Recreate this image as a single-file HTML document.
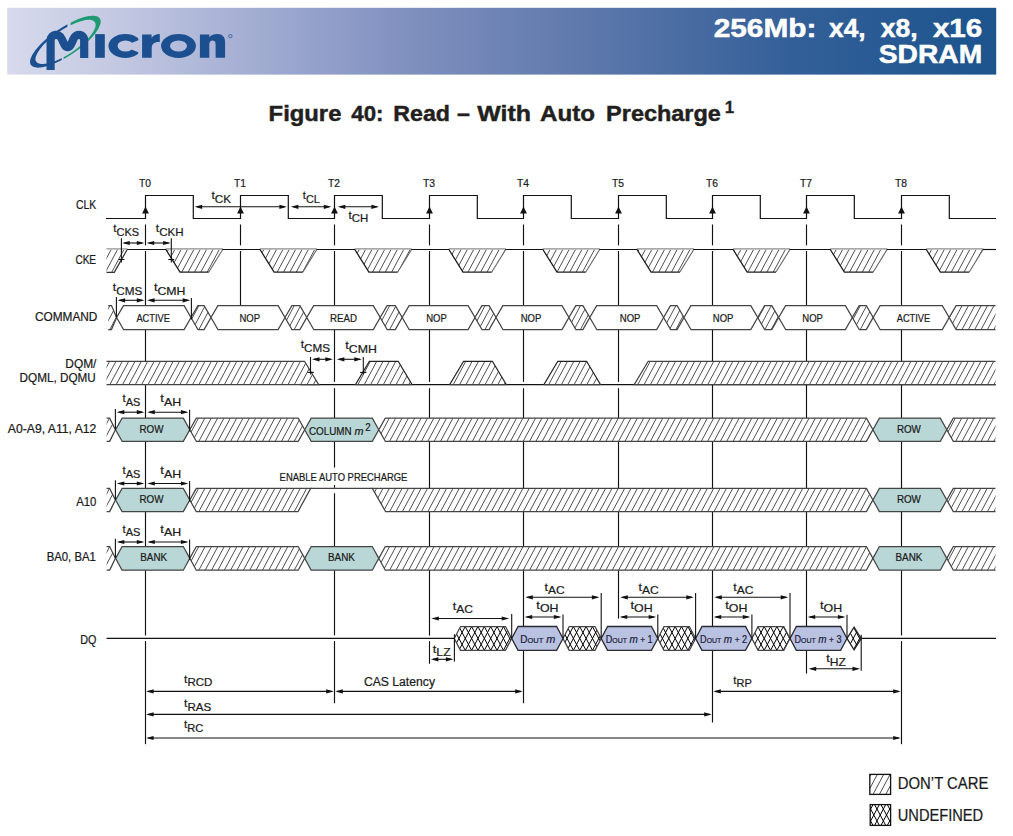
<!DOCTYPE html>
<html><head><meta charset="utf-8"><title>Figure 40</title>
<style>
html,body{margin:0;padding:0;background:#fff;}
body{width:1013px;height:836px;overflow:hidden;font-family:"Liberation Sans",sans-serif;}
svg{display:block;font-family:"Liberation Sans",sans-serif;}
</style></head><body>
<svg width="1013" height="836" viewBox="0 0 1013 836">
<defs>
<linearGradient id="hg" x1="0" y1="0" x2="1" y2="0">
<stop offset="0" stop-color="#d7daec"/><stop offset="0.104" stop-color="#c5cae3"/><stop offset="0.296" stop-color="#98a4cd"/>
<stop offset="0.397" stop-color="#8191c0"/><stop offset="0.58" stop-color="#5f79ac"/><stop offset="0.794" stop-color="#335f98"/><stop offset="1" stop-color="#1c548d"/>
</linearGradient>
</defs>
<rect x="0" y="0" width="1013" height="836" fill="#fff"/>
<rect x="7.2" y="7.8" width="989" height="66.8" fill="url(#hg)"/>
<clipPath id="cb"><path d="M0 0 H67.4 V42 H61.8 V80 H0 Z"/></clipPath>
<clipPath id="cg"><path d="M120 0 H70.6 V42 H63.6 V80 H120 Z"/></clipPath>
<g clip-path="url(#cb)"><path transform="translate(65.4 41.7) rotate(-34.0)" fill="#1b4f90" fill-rule="evenodd" d="M-41.6 0 A41.6 13.9 0 1 0 41.6 0 A41.6 13.9 0 1 0 -41.6 0 Z M-35.4 0.3 A35.4 12.0 0 1 0 35.4 0.3 A35.4 12.0 0 1 0 -35.4 0.3 Z"/></g>
<g clip-path="url(#cg)"><path transform="translate(65.4 41.7) rotate(-34.0)" fill="#1f9a72" fill-rule="evenodd" d="M-41.6 0 A41.6 13.9 0 1 0 41.6 0 A41.6 13.9 0 1 0 -41.6 0 Z M-35.4 0.3 A35.4 12.0 0 1 0 35.4 0.3 A35.4 12.0 0 1 0 -35.4 0.3 Z"/></g>
<path d="M50.6 69.9 L50.6 40.5 C50.6 33.6 59.2 33.2 61.6 38.6 C63.6 43 65 47.2 67.6 47.2 C70.2 47.2 71.8 43 73.6 38.6 C76 33.2 84.2 33.6 84.2 40.5 L84.2 57.9" fill="none" stroke="#1b4f90" stroke-width="8.2" stroke-linejoin="round"/>
<rect x="95.2" y="34.1" width="9.6" height="23.7" fill="#1b4f90"/>
<clipPath id="cc"><path d="M100 30 H138.3 V40.2 L129 44 V48.6 L138.3 52.2 V62 H100 Z"/></clipPath>
<path clip-path="url(#cc)" fill="#1b4f90" fill-rule="evenodd" d="M108.5 46 A16.8 11.9 0 1 0 142.1 46 A16.8 11.9 0 1 0 108.5 46 Z M117.6 46 A7.9 5.6 0 1 0 133.4 46 A7.9 5.6 0 1 0 117.6 46 Z"/>
<path d="M142.1 34.4 H151.6 V38 C153.6 35 156.4 34 159.8 34.1 V42 C155 41.6 151.7 43.6 151.7 48 V57.8 H142.1 Z" fill="#1b4f90"/>
<path fill="#1b4f90" fill-rule="evenodd" d="M161.1 46 A17.4 11.9 0 1 0 195.9 46 A17.4 11.9 0 1 0 161.1 46 Z M170 46 A8.5 5.6 0 1 0 187 46 A8.5 5.6 0 1 0 170 46 Z"/>
<path fill="#1b4f90" d="M199.9 57.8 V34.4 H209.3 V37.2 C211.4 35 214 34 217.2 34 C222.6 34 225.1 37.2 225.1 42 V57.8 H215.6 V44.2 C215.6 41.6 214.4 40.6 212.6 40.6 C210.6 40.6 209.3 42 209.3 44.6 V57.8 Z"/>
<circle cx="230.4" cy="36.2" r="1.7" fill="none" stroke="#1b4f90" stroke-width="0.7"/>
<g font-size="26" font-weight="bold" fill="#fff" stroke="#fff" stroke-width="0.5" lengthAdjust="spacingAndGlyphs">
<text x="713.7" y="36.5" textLength="102.8" lengthAdjust="spacingAndGlyphs">256Mb:</text>
<text x="829.1" y="36.5" textLength="36.5" lengthAdjust="spacingAndGlyphs">x4,</text>
<text x="880.8" y="36.5" textLength="36.9" lengthAdjust="spacingAndGlyphs">x8,</text>
<text x="932.9" y="36.5" textLength="49.3" lengthAdjust="spacingAndGlyphs">x16</text>
<text x="878.8" y="63.3" textLength="103.4" lengthAdjust="spacingAndGlyphs">SDRAM</text>
</g>
<g font-size="22" font-weight="bold" fill="#231f20" stroke="#231f20" stroke-width="0.45">
<text x="268.6" y="120.8" textLength="72.8" lengthAdjust="spacingAndGlyphs">Figure</text>
<text x="351.3" y="120.8" textLength="32.1" lengthAdjust="spacingAndGlyphs">40:</text>
<text x="393.3" y="120.8" textLength="56.7" lengthAdjust="spacingAndGlyphs">Read</text>
<text x="456.9" y="120.8" textLength="12.9" lengthAdjust="spacingAndGlyphs">–</text>
<text x="477.2" y="120.8" textLength="53.7" lengthAdjust="spacingAndGlyphs">With</text>
<text x="540.0" y="120.8" textLength="55.0" lengthAdjust="spacingAndGlyphs">Auto</text>
<text x="606.1" y="120.8" textLength="114.8" lengthAdjust="spacingAndGlyphs">Precharge</text>
</g>
<text x="724.8" y="113.4" font-size="17" font-weight="bold" fill="#231f20" stroke="#231f20" stroke-width="0.3">1</text>
<style>.d text{stroke:#1a1a1a;stroke-width:0.22px;paint-order:stroke fill;}</style>
<g class="d" shape-rendering="geometricPrecision" stroke-linecap="butt">
<line x1="145.5" y1="224.5" x2="145.5" y2="245.4" stroke="#111" stroke-width="1.15" />
<line x1="145.5" y1="251" x2="145.5" y2="635.4" stroke="#111" stroke-width="1.15" />
<line x1="145.5" y1="641.1" x2="145.5" y2="744.2" stroke="#111" stroke-width="1.15" />
<line x1="240.5" y1="224.5" x2="240.5" y2="245.4" stroke="#111" stroke-width="1.15" />
<line x1="240.5" y1="251" x2="240.5" y2="305.5" stroke="#111" stroke-width="1.15" />
<line x1="334.5" y1="224.5" x2="334.5" y2="245.4" stroke="#111" stroke-width="1.15" />
<line x1="334.5" y1="251" x2="334.5" y2="381.9" stroke="#111" stroke-width="1.15" />
<line x1="334.5" y1="388.2" x2="334.5" y2="487.8" stroke="#111" stroke-width="1.15" />
<line x1="334.5" y1="493.3" x2="334.5" y2="635.4" stroke="#111" stroke-width="1.15" />
<line x1="334.5" y1="641.1" x2="334.5" y2="703.3" stroke="#111" stroke-width="1.15" />
<line x1="429.5" y1="224.5" x2="429.5" y2="245.4" stroke="#111" stroke-width="1.15" />
<line x1="429.5" y1="251" x2="429.5" y2="381.9" stroke="#111" stroke-width="1.15" />
<line x1="429.5" y1="388.2" x2="429.5" y2="635.6" stroke="#111" stroke-width="1.15" />
<line x1="523.5" y1="224.5" x2="523.5" y2="245.4" stroke="#111" stroke-width="1.15" />
<line x1="523.5" y1="251" x2="523.5" y2="381.9" stroke="#111" stroke-width="1.15" />
<line x1="523.5" y1="388.2" x2="523.5" y2="703.3" stroke="#111" stroke-width="1.15" />
<line x1="618.5" y1="224.5" x2="618.5" y2="245.4" stroke="#111" stroke-width="1.15" />
<line x1="618.5" y1="251" x2="618.5" y2="381.9" stroke="#111" stroke-width="1.15" />
<line x1="618.5" y1="388.2" x2="618.5" y2="618.6" stroke="#111" stroke-width="1.15" />
<line x1="712.5" y1="224.5" x2="712.5" y2="245.4" stroke="#111" stroke-width="1.15" />
<line x1="712.5" y1="251" x2="712.5" y2="722.4" stroke="#111" stroke-width="1.15" />
<line x1="806.5" y1="224.5" x2="806.5" y2="245.4" stroke="#111" stroke-width="1.15" />
<line x1="806.5" y1="251" x2="806.5" y2="673.4" stroke="#111" stroke-width="1.15" />
<line x1="901.5" y1="224.5" x2="901.5" y2="245.4" stroke="#111" stroke-width="1.15" />
<line x1="901.5" y1="251" x2="901.5" y2="635.4" stroke="#111" stroke-width="1.15" />
<line x1="901.5" y1="641.1" x2="901.5" y2="744.2" stroke="#111" stroke-width="1.15" />
<path d="M106 218.5 L145.5 218.5 L145.5 195.5 L193.3 195.5 L193.3 218.5 L240.5 218.5 L240.5 195.5 L288.3 195.5 L288.3 218.5 L334.5 218.5 L334.5 195.5 L382.3 195.5 L382.3 218.5 L429.5 218.5 L429.5 195.5 L477.3 195.5 L477.3 218.5 L523.5 218.5 L523.5 195.5 L571.3 195.5 L571.3 218.5 L618.5 218.5 L618.5 195.5 L666.3 195.5 L666.3 218.5 L712.5 218.5 L712.5 195.5 L760.3 195.5 L760.3 218.5 L806.5 218.5 L806.5 195.5 L854.3 195.5 L854.3 218.5 L901.5 218.5 L901.5 195.5 L949.3 195.5 L949.3 218.5 L996 218.5" fill="none" stroke="#111" stroke-width="1.2" stroke-linejoin="miter" />
<path d="M145.5 206.6 L142.1 213.6 L148.9 213.6 Z" fill="#111"/>
<text x="145.1" y="186.9" font-size="11.6" text-anchor="middle" font-weight="normal" fill="#1a1a1a" textLength="12" lengthAdjust="spacingAndGlyphs" >T0</text>
<path d="M240.5 206.6 L237.1 213.6 L243.9 213.6 Z" fill="#111"/>
<text x="240.1" y="186.9" font-size="11.6" text-anchor="middle" font-weight="normal" fill="#1a1a1a" textLength="12" lengthAdjust="spacingAndGlyphs" >T1</text>
<path d="M334.5 206.6 L331.1 213.6 L337.9 213.6 Z" fill="#111"/>
<text x="334.1" y="186.9" font-size="11.6" text-anchor="middle" font-weight="normal" fill="#1a1a1a" textLength="12" lengthAdjust="spacingAndGlyphs" >T2</text>
<path d="M429.5 206.6 L426.1 213.6 L432.9 213.6 Z" fill="#111"/>
<text x="429.1" y="186.9" font-size="11.6" text-anchor="middle" font-weight="normal" fill="#1a1a1a" textLength="12" lengthAdjust="spacingAndGlyphs" >T3</text>
<path d="M523.5 206.6 L520.1 213.6 L526.9 213.6 Z" fill="#111"/>
<text x="523.1" y="186.9" font-size="11.6" text-anchor="middle" font-weight="normal" fill="#1a1a1a" textLength="12" lengthAdjust="spacingAndGlyphs" >T4</text>
<path d="M618.5 206.6 L615.1 213.6 L621.9 213.6 Z" fill="#111"/>
<text x="618.1" y="186.9" font-size="11.6" text-anchor="middle" font-weight="normal" fill="#1a1a1a" textLength="12" lengthAdjust="spacingAndGlyphs" >T5</text>
<path d="M712.5 206.6 L709.1 213.6 L715.9 213.6 Z" fill="#111"/>
<text x="712.1" y="186.9" font-size="11.6" text-anchor="middle" font-weight="normal" fill="#1a1a1a" textLength="12" lengthAdjust="spacingAndGlyphs" >T6</text>
<path d="M806.5 206.6 L803.1 213.6 L809.9 213.6 Z" fill="#111"/>
<text x="806.1" y="186.9" font-size="11.6" text-anchor="middle" font-weight="normal" fill="#1a1a1a" textLength="12" lengthAdjust="spacingAndGlyphs" >T7</text>
<path d="M901.5 206.6 L898.1 213.6 L904.9 213.6 Z" fill="#111"/>
<text x="901.1" y="186.9" font-size="11.6" text-anchor="middle" font-weight="normal" fill="#1a1a1a" textLength="12" lengthAdjust="spacingAndGlyphs" >T8</text>
<line x1="196.7" y1="206.8" x2="284.9" y2="206.8" stroke="#111" stroke-width="1.1" />
<path d="M194.7 206.8 L202.2 204.7 L202.2 208.9 Z" fill="#111"/>
<path d="M286.9 206.8 L279.4 204.7 L279.4 208.9 Z" fill="#111"/>
<line x1="292.9" y1="206.8" x2="329.3" y2="206.8" stroke="#111" stroke-width="1.1" />
<path d="M290.9 206.8 L298.4 204.7 L298.4 208.9 Z" fill="#111"/>
<path d="M331.3 206.8 L323.8 204.7 L323.8 208.9 Z" fill="#111"/>
<line x1="339.8" y1="206.8" x2="376.9" y2="206.8" stroke="#111" stroke-width="1.1" />
<path d="M337.8 206.8 L345.3 204.7 L345.3 208.9 Z" fill="#111"/>
<path d="M378.9 206.8 L371.4 204.7 L371.4 208.9 Z" fill="#111"/>
<text x="211.4" y="199.1" font-size="11.8" fill="#1a1a1a" textLength="19.6" lengthAdjust="spacingAndGlyphs">t<tspan font-size="11.3" dy="3.8">CK</tspan></text>
<text x="302.8" y="199.3" font-size="11.8" fill="#1a1a1a" textLength="17" lengthAdjust="spacingAndGlyphs">t<tspan font-size="11.3" dy="3.4">CL</tspan></text>
<text x="348.4" y="218.5" font-size="11.8" fill="#1a1a1a" textLength="19.9" lengthAdjust="spacingAndGlyphs">t<tspan font-size="11.3" dy="3.0">CH</tspan></text>
<clipPath id="h1"><path d="M106.5 249.5 L127.2 249.5 L114.5 272 L106.5 272 Z"/></clipPath>
<path clip-path="url(#h1)" d="M86.44 272L98.47 249.5M92.8 272L104.83 249.5M99.16 272L111.19 249.5M105.52 272L117.55 249.5M111.88 272L123.91 249.5M118.24 272L130.27 249.5M124.6 272L136.63 249.5M130.96 272L142.99 249.5M137.32 272L149.35 249.5" stroke="#1c1c1c" stroke-width="0.78" fill="none"/>
<line x1="106.5" y1="248.9" x2="127.4" y2="248.9" stroke="#8c8c8c" stroke-width="1.2" />
<path d="M127.2 249.5 L114.3 272.3 L106.5 272.3" fill="none" stroke="#333" stroke-width="1.25" stroke-linejoin="miter" />
<path d="M165.9 249.5 L179.8 272 L208.8 272 L222.7 249.5 Z" fill="#fff" stroke="none" stroke-width="1.25" stroke-linejoin="miter" />
<clipPath id="h2"><path d="M165.9 249.5 L179.8 272 L208.8 272 L222.7 249.5 Z"/></clipPath>
<path clip-path="url(#h2)" d="M143.68 272L155.71 249.5M150.04 272L162.07 249.5M156.4 272L168.43 249.5M162.76 272L174.79 249.5M169.12 272L181.15 249.5M175.48 272L187.51 249.5M181.84 272L193.87 249.5M188.2 272L200.23 249.5M194.56 272L206.59 249.5M200.92 272L212.95 249.5M207.28 272L219.31 249.5M213.64 272L225.67 249.5M220 272L232.03 249.5M226.36 272L238.39 249.5M232.72 272L244.75 249.5" stroke="#1c1c1c" stroke-width="0.78" fill="none"/>
<path d="M208.8 272 L222.7 249.5" fill="none" stroke="#666" stroke-width="1.1" stroke-linejoin="miter" />
<path d="M165.9 249.5 L180 272.2 L208.8 272.2" fill="none" stroke="#1c1c1c" stroke-width="1.3" stroke-linejoin="miter" />
<line x1="165.7" y1="248.9" x2="222.9" y2="248.9" stroke="#8c8c8c" stroke-width="1.3" />
<line x1="127.2" y1="249.5" x2="166.3" y2="249.5" stroke="#111" stroke-width="1.15" />
<path d="M260 249.5 L273.9 272 L302.9 272 L316.8 249.5 Z" fill="#fff" stroke="none" stroke-width="1.25" stroke-linejoin="miter" />
<clipPath id="h3"><path d="M260 249.5 L273.9 272 L302.9 272 L316.8 249.5 Z"/></clipPath>
<path clip-path="url(#h3)" d="M239.08 272L251.11 249.5M245.44 272L257.47 249.5M251.8 272L263.83 249.5M258.16 272L270.19 249.5M264.52 272L276.55 249.5M270.88 272L282.91 249.5M277.24 272L289.27 249.5M283.6 272L295.63 249.5M289.96 272L301.99 249.5M296.32 272L308.35 249.5M302.68 272L314.71 249.5M309.04 272L321.07 249.5M315.4 272L327.43 249.5M321.76 272L333.79 249.5M328.12 272L340.15 249.5" stroke="#1c1c1c" stroke-width="0.78" fill="none"/>
<path d="M302.9 272 L316.8 249.5" fill="none" stroke="#666" stroke-width="1.1" stroke-linejoin="miter" />
<path d="M260 249.5 L274.1 272.2 L302.9 272.2" fill="none" stroke="#1c1c1c" stroke-width="1.3" stroke-linejoin="miter" />
<line x1="259.8" y1="248.9" x2="317" y2="248.9" stroke="#8c8c8c" stroke-width="1.3" />
<line x1="222.3" y1="249.5" x2="260.4" y2="249.5" stroke="#111" stroke-width="1.15" />
<path d="M354.8 249.5 L368.7 272 L397.7 272 L411.6 249.5 Z" fill="#fff" stroke="none" stroke-width="1.25" stroke-linejoin="miter" />
<clipPath id="h4"><path d="M354.8 249.5 L368.7 272 L397.7 272 L411.6 249.5 Z"/></clipPath>
<path clip-path="url(#h4)" d="M334.48 272L346.51 249.5M340.84 272L352.87 249.5M347.2 272L359.23 249.5M353.56 272L365.59 249.5M359.92 272L371.95 249.5M366.28 272L378.31 249.5M372.64 272L384.67 249.5M379 272L391.03 249.5M385.36 272L397.39 249.5M391.72 272L403.75 249.5M398.08 272L410.11 249.5M404.44 272L416.47 249.5M410.8 272L422.83 249.5M417.16 272L429.19 249.5M423.52 272L435.55 249.5" stroke="#1c1c1c" stroke-width="0.78" fill="none"/>
<path d="M397.7 272 L411.6 249.5" fill="none" stroke="#666" stroke-width="1.1" stroke-linejoin="miter" />
<path d="M354.8 249.5 L368.9 272.2 L397.7 272.2" fill="none" stroke="#1c1c1c" stroke-width="1.3" stroke-linejoin="miter" />
<line x1="354.6" y1="248.9" x2="411.8" y2="248.9" stroke="#8c8c8c" stroke-width="1.3" />
<line x1="316.4" y1="249.5" x2="355.2" y2="249.5" stroke="#111" stroke-width="1.15" />
<path d="M448.9 249.5 L462.8 272 L491.8 272 L505.7 249.5 Z" fill="#fff" stroke="none" stroke-width="1.25" stroke-linejoin="miter" />
<clipPath id="h5"><path d="M448.9 249.5 L462.8 272 L491.8 272 L505.7 249.5 Z"/></clipPath>
<path clip-path="url(#h5)" d="M429.88 272L441.91 249.5M436.24 272L448.27 249.5M442.6 272L454.63 249.5M448.96 272L460.99 249.5M455.32 272L467.35 249.5M461.68 272L473.71 249.5M468.04 272L480.07 249.5M474.4 272L486.43 249.5M480.76 272L492.79 249.5M487.12 272L499.15 249.5M493.48 272L505.51 249.5M499.84 272L511.87 249.5M506.2 272L518.23 249.5M512.56 272L524.59 249.5" stroke="#1c1c1c" stroke-width="0.78" fill="none"/>
<path d="M491.8 272 L505.7 249.5" fill="none" stroke="#666" stroke-width="1.1" stroke-linejoin="miter" />
<path d="M448.9 249.5 L463 272.2 L491.8 272.2" fill="none" stroke="#1c1c1c" stroke-width="1.3" stroke-linejoin="miter" />
<line x1="448.7" y1="248.9" x2="505.9" y2="248.9" stroke="#8c8c8c" stroke-width="1.3" />
<line x1="411.2" y1="249.5" x2="449.3" y2="249.5" stroke="#111" stroke-width="1.15" />
<path d="M542.9 249.5 L556.8 272 L585.8 272 L599.7 249.5 Z" fill="#fff" stroke="none" stroke-width="1.25" stroke-linejoin="miter" />
<clipPath id="h6"><path d="M542.9 249.5 L556.8 272 L585.8 272 L599.7 249.5 Z"/></clipPath>
<path clip-path="url(#h6)" d="M518.92 272L530.95 249.5M525.28 272L537.31 249.5M531.64 272L543.67 249.5M538 272L550.03 249.5M544.36 272L556.39 249.5M550.72 272L562.75 249.5M557.08 272L569.11 249.5M563.44 272L575.47 249.5M569.8 272L581.83 249.5M576.16 272L588.19 249.5M582.52 272L594.55 249.5M588.88 272L600.91 249.5M595.24 272L607.27 249.5M601.6 272L613.63 249.5M607.96 272L619.99 249.5" stroke="#1c1c1c" stroke-width="0.78" fill="none"/>
<path d="M585.8 272 L599.7 249.5" fill="none" stroke="#666" stroke-width="1.1" stroke-linejoin="miter" />
<path d="M542.9 249.5 L557 272.2 L585.8 272.2" fill="none" stroke="#1c1c1c" stroke-width="1.3" stroke-linejoin="miter" />
<line x1="542.7" y1="248.9" x2="599.9" y2="248.9" stroke="#8c8c8c" stroke-width="1.3" />
<line x1="505.3" y1="249.5" x2="543.3" y2="249.5" stroke="#111" stroke-width="1.15" />
<path d="M637 249.5 L650.9 272 L679.9 272 L693.8 249.5 Z" fill="#fff" stroke="none" stroke-width="1.25" stroke-linejoin="miter" />
<clipPath id="h7"><path d="M637 249.5 L650.9 272 L679.9 272 L693.8 249.5 Z"/></clipPath>
<path clip-path="url(#h7)" d="M614.32 272L626.35 249.5M620.68 272L632.71 249.5M627.04 272L639.07 249.5M633.4 272L645.43 249.5M639.76 272L651.79 249.5M646.12 272L658.15 249.5M652.48 272L664.51 249.5M658.84 272L670.87 249.5M665.2 272L677.23 249.5M671.56 272L683.59 249.5M677.92 272L689.95 249.5M684.28 272L696.31 249.5M690.64 272L702.67 249.5M697 272L709.03 249.5M703.36 272L715.39 249.5" stroke="#1c1c1c" stroke-width="0.78" fill="none"/>
<path d="M679.9 272 L693.8 249.5" fill="none" stroke="#666" stroke-width="1.1" stroke-linejoin="miter" />
<path d="M637 249.5 L651.1 272.2 L679.9 272.2" fill="none" stroke="#1c1c1c" stroke-width="1.3" stroke-linejoin="miter" />
<line x1="636.8" y1="248.9" x2="694" y2="248.9" stroke="#8c8c8c" stroke-width="1.3" />
<line x1="599.3" y1="249.5" x2="637.4" y2="249.5" stroke="#111" stroke-width="1.15" />
<path d="M733.1 249.5 L747 272 L776 272 L789.9 249.5 Z" fill="#fff" stroke="none" stroke-width="1.25" stroke-linejoin="miter" />
<clipPath id="h8"><path d="M733.1 249.5 L747 272 L776 272 L789.9 249.5 Z"/></clipPath>
<path clip-path="url(#h8)" d="M709.72 272L721.75 249.5M716.08 272L728.11 249.5M722.44 272L734.47 249.5M728.8 272L740.83 249.5M735.16 272L747.19 249.5M741.52 272L753.55 249.5M747.88 272L759.91 249.5M754.24 272L766.27 249.5M760.6 272L772.63 249.5M766.96 272L778.99 249.5M773.32 272L785.35 249.5M779.68 272L791.71 249.5M786.04 272L798.07 249.5M792.4 272L804.43 249.5M798.76 272L810.79 249.5" stroke="#1c1c1c" stroke-width="0.78" fill="none"/>
<path d="M776 272 L789.9 249.5" fill="none" stroke="#666" stroke-width="1.1" stroke-linejoin="miter" />
<path d="M733.1 249.5 L747.2 272.2 L776 272.2" fill="none" stroke="#1c1c1c" stroke-width="1.3" stroke-linejoin="miter" />
<line x1="732.9" y1="248.9" x2="790.1" y2="248.9" stroke="#8c8c8c" stroke-width="1.3" />
<line x1="693.4" y1="249.5" x2="733.5" y2="249.5" stroke="#111" stroke-width="1.15" />
<path d="M830.3 249.5 L844.2 272 L873.2 272 L887.1 249.5 Z" fill="#fff" stroke="none" stroke-width="1.25" stroke-linejoin="miter" />
<clipPath id="h9"><path d="M830.3 249.5 L844.2 272 L873.2 272 L887.1 249.5 Z"/></clipPath>
<path clip-path="url(#h9)" d="M811.48 272L823.51 249.5M817.84 272L829.87 249.5M824.2 272L836.23 249.5M830.56 272L842.59 249.5M836.92 272L848.95 249.5M843.28 272L855.31 249.5M849.64 272L861.67 249.5M856 272L868.03 249.5M862.36 272L874.39 249.5M868.72 272L880.75 249.5M875.08 272L887.11 249.5M881.44 272L893.47 249.5M887.8 272L899.83 249.5M894.16 272L906.19 249.5" stroke="#1c1c1c" stroke-width="0.78" fill="none"/>
<path d="M873.2 272 L887.1 249.5" fill="none" stroke="#666" stroke-width="1.1" stroke-linejoin="miter" />
<path d="M830.3 249.5 L844.4 272.2 L873.2 272.2" fill="none" stroke="#1c1c1c" stroke-width="1.3" stroke-linejoin="miter" />
<line x1="830.1" y1="248.9" x2="887.3" y2="248.9" stroke="#8c8c8c" stroke-width="1.3" />
<line x1="789.5" y1="249.5" x2="830.7" y2="249.5" stroke="#111" stroke-width="1.15" />
<path d="M926.3 249.5 L940.2 272 L969.2 272 L983.1 249.5 Z" fill="#fff" stroke="none" stroke-width="1.25" stroke-linejoin="miter" />
<clipPath id="h10"><path d="M926.3 249.5 L940.2 272 L969.2 272 L983.1 249.5 Z"/></clipPath>
<path clip-path="url(#h10)" d="M906.88 272L918.91 249.5M913.24 272L925.27 249.5M919.6 272L931.63 249.5M925.96 272L937.99 249.5M932.32 272L944.35 249.5M938.68 272L950.71 249.5M945.04 272L957.07 249.5M951.4 272L963.43 249.5M957.76 272L969.79 249.5M964.12 272L976.15 249.5M970.48 272L982.51 249.5M976.84 272L988.87 249.5M983.2 272L995.23 249.5M989.56 272L1001.59 249.5" stroke="#1c1c1c" stroke-width="0.78" fill="none"/>
<path d="M969.2 272 L983.1 249.5" fill="none" stroke="#666" stroke-width="1.1" stroke-linejoin="miter" />
<path d="M926.3 249.5 L940.4 272.2 L969.2 272.2" fill="none" stroke="#1c1c1c" stroke-width="1.3" stroke-linejoin="miter" />
<line x1="926.1" y1="248.9" x2="983.3" y2="248.9" stroke="#8c8c8c" stroke-width="1.3" />
<line x1="886.7" y1="249.5" x2="926.7" y2="249.5" stroke="#111" stroke-width="1.15" />
<line x1="982.7" y1="249.5" x2="996" y2="249.5" stroke="#111" stroke-width="1.15" />
<line x1="124.2" y1="243" x2="142.3" y2="243" stroke="#111" stroke-width="1.1" />
<path d="M122.2 243 L129.7 240.9 L129.7 245.1 Z" fill="#111"/>
<path d="M144.3 243 L136.8 240.9 L136.8 245.1 Z" fill="#111"/>
<line x1="148.7" y1="243" x2="168.6" y2="243" stroke="#111" stroke-width="1.1" />
<path d="M146.7 243 L154.2 240.9 L154.2 245.1 Z" fill="#111"/>
<path d="M170.6 243 L163.1 240.9 L163.1 245.1 Z" fill="#111"/>
<line x1="121.4" y1="238.3" x2="121.4" y2="262.4" stroke="#111" stroke-width="1.1" />
<line x1="118.6" y1="259.5" x2="124.4" y2="259.5" stroke="#111" stroke-width="1.1" />
<line x1="171.3" y1="238.3" x2="171.3" y2="262.4" stroke="#111" stroke-width="1.1" />
<line x1="168.3" y1="259.5" x2="174.2" y2="259.5" stroke="#111" stroke-width="1.1" />
<text x="113.3" y="231.5" font-size="11.8" fill="#1a1a1a" textLength="25.8" lengthAdjust="spacingAndGlyphs">t<tspan font-size="11.3" dy="4.3">CKS</tspan></text>
<text x="155.8" y="231.5" font-size="11.8" fill="#1a1a1a" textLength="27.8" lengthAdjust="spacingAndGlyphs">t<tspan font-size="11.3" dy="4.3">CKH</tspan></text>
<path d="M123.5 329.5 L116.6 317.55 L123.5 305.6 L184.1 305.6 L191 317.55 L184.1 329.5 Z" fill="#fff" stroke="none" stroke-width="1.25" stroke-linejoin="miter" />
<path d="M123.5 329.5 L116.6 317.55 L123.5 305.6 L184.1 305.6 L191 317.55 L184.1 329.5 Z" fill="#fff" stroke="none" stroke-width="1.25" stroke-linejoin="miter" />
<path d="M123.5 329.5 L116.6 317.55 L123.5 305.6 L184.1 305.6 L191 317.55 L184.1 329.5 Z" fill="none" stroke="#444" stroke-width="1.25" stroke-linejoin="miter" />
<path d="M197.9 329.5 L191 317.55 L197.9 305.6 L204.1 305.6 L211 317.55 L204.1 329.5 Z" fill="#fff" stroke="none" stroke-width="1.25" stroke-linejoin="miter" />
<clipPath id="h11"><path d="M197.9 329.5 L191 317.55 L197.9 305.6 L204.1 305.6 L211 317.55 L204.1 329.5 Z"/></clipPath>
<path clip-path="url(#h11)" d="M167.06 329.5L179.83 305.6M173.42 329.5L186.19 305.6M179.78 329.5L192.55 305.6M186.14 329.5L198.91 305.6M192.5 329.5L205.27 305.6M198.86 329.5L211.63 305.6M205.22 329.5L217.99 305.6M211.58 329.5L224.35 305.6M217.94 329.5L230.71 305.6" stroke="#1c1c1c" stroke-width="0.78" fill="none"/>
<path d="M197.9 329.5 L191 317.55 L197.9 305.6 L204.1 305.6 L211 317.55 L204.1 329.5 Z" fill="none" stroke="#444" stroke-width="1.25" stroke-linejoin="miter" />
<path d="M217.9 329.5 L211 317.55 L217.9 305.6 L278.1 305.6 L285 317.55 L278.1 329.5 Z" fill="#fff" stroke="none" stroke-width="1.25" stroke-linejoin="miter" />
<path d="M217.9 329.5 L211 317.55 L217.9 305.6 L278.1 305.6 L285 317.55 L278.1 329.5 Z" fill="#fff" stroke="none" stroke-width="1.25" stroke-linejoin="miter" />
<path d="M217.9 329.5 L211 317.55 L217.9 305.6 L278.1 305.6 L285 317.55 L278.1 329.5 Z" fill="none" stroke="#444" stroke-width="1.25" stroke-linejoin="miter" />
<path d="M291.9 329.5 L285 317.55 L291.9 305.6 L299.9 305.6 L306.8 317.55 L299.9 329.5 Z" fill="#fff" stroke="none" stroke-width="1.25" stroke-linejoin="miter" />
<clipPath id="h12"><path d="M291.9 329.5 L285 317.55 L291.9 305.6 L299.9 305.6 L306.8 317.55 L299.9 329.5 Z"/></clipPath>
<path clip-path="url(#h12)" d="M262.46 329.5L275.23 305.6M268.82 329.5L281.59 305.6M275.18 329.5L287.95 305.6M281.54 329.5L294.31 305.6M287.9 329.5L300.67 305.6M294.26 329.5L307.03 305.6M300.62 329.5L313.39 305.6M306.98 329.5L319.75 305.6M313.34 329.5L326.11 305.6" stroke="#1c1c1c" stroke-width="0.78" fill="none"/>
<path d="M291.9 329.5 L285 317.55 L291.9 305.6 L299.9 305.6 L306.8 317.55 L299.9 329.5 Z" fill="none" stroke="#444" stroke-width="1.25" stroke-linejoin="miter" />
<path d="M313.7 329.5 L306.8 317.55 L313.7 305.6 L373.3 305.6 L380.2 317.55 L373.3 329.5 Z" fill="#fff" stroke="none" stroke-width="1.25" stroke-linejoin="miter" />
<path d="M313.7 329.5 L306.8 317.55 L313.7 305.6 L373.3 305.6 L380.2 317.55 L373.3 329.5 Z" fill="#fff" stroke="none" stroke-width="1.25" stroke-linejoin="miter" />
<path d="M313.7 329.5 L306.8 317.55 L313.7 305.6 L373.3 305.6 L380.2 317.55 L373.3 329.5 Z" fill="none" stroke="#444" stroke-width="1.25" stroke-linejoin="miter" />
<path d="M387.1 329.5 L380.2 317.55 L387.1 305.6 L395.3 305.6 L402.2 317.55 L395.3 329.5 Z" fill="#fff" stroke="none" stroke-width="1.25" stroke-linejoin="miter" />
<clipPath id="h13"><path d="M387.1 329.5 L380.2 317.55 L387.1 305.6 L395.3 305.6 L402.2 317.55 L395.3 329.5 Z"/></clipPath>
<path clip-path="url(#h13)" d="M357.86 329.5L370.63 305.6M364.22 329.5L376.99 305.6M370.58 329.5L383.35 305.6M376.94 329.5L389.71 305.6M383.3 329.5L396.07 305.6M389.66 329.5L402.43 305.6M396.02 329.5L408.79 305.6M402.38 329.5L415.15 305.6M408.74 329.5L421.51 305.6" stroke="#1c1c1c" stroke-width="0.78" fill="none"/>
<path d="M387.1 329.5 L380.2 317.55 L387.1 305.6 L395.3 305.6 L402.2 317.55 L395.3 329.5 Z" fill="none" stroke="#444" stroke-width="1.25" stroke-linejoin="miter" />
<path d="M409.1 329.5 L402.2 317.55 L409.1 305.6 L468.1 305.6 L475 317.55 L468.1 329.5 Z" fill="#fff" stroke="none" stroke-width="1.25" stroke-linejoin="miter" />
<path d="M409.1 329.5 L402.2 317.55 L409.1 305.6 L468.1 305.6 L475 317.55 L468.1 329.5 Z" fill="#fff" stroke="none" stroke-width="1.25" stroke-linejoin="miter" />
<path d="M409.1 329.5 L402.2 317.55 L409.1 305.6 L468.1 305.6 L475 317.55 L468.1 329.5 Z" fill="none" stroke="#444" stroke-width="1.25" stroke-linejoin="miter" />
<path d="M481.9 329.5 L475 317.55 L481.9 305.6 L489.1 305.6 L496 317.55 L489.1 329.5 Z" fill="#fff" stroke="none" stroke-width="1.25" stroke-linejoin="miter" />
<clipPath id="h14"><path d="M481.9 329.5 L475 317.55 L481.9 305.6 L489.1 305.6 L496 317.55 L489.1 329.5 Z"/></clipPath>
<path clip-path="url(#h14)" d="M453.26 329.5L466.03 305.6M459.62 329.5L472.39 305.6M465.98 329.5L478.75 305.6M472.34 329.5L485.11 305.6M478.7 329.5L491.47 305.6M485.06 329.5L497.83 305.6M491.42 329.5L504.19 305.6M497.78 329.5L510.55 305.6M504.14 329.5L516.91 305.6" stroke="#1c1c1c" stroke-width="0.78" fill="none"/>
<path d="M481.9 329.5 L475 317.55 L481.9 305.6 L489.1 305.6 L496 317.55 L489.1 329.5 Z" fill="none" stroke="#444" stroke-width="1.25" stroke-linejoin="miter" />
<path d="M502.9 329.5 L496 317.55 L502.9 305.6 L562 305.6 L568.9 317.55 L562 329.5 Z" fill="#fff" stroke="none" stroke-width="1.25" stroke-linejoin="miter" />
<path d="M502.9 329.5 L496 317.55 L502.9 305.6 L562 305.6 L568.9 317.55 L562 329.5 Z" fill="#fff" stroke="none" stroke-width="1.25" stroke-linejoin="miter" />
<path d="M502.9 329.5 L496 317.55 L502.9 305.6 L562 305.6 L568.9 317.55 L562 329.5 Z" fill="none" stroke="#444" stroke-width="1.25" stroke-linejoin="miter" />
<path d="M575.8 329.5 L568.9 317.55 L575.8 305.6 L582.9 305.6 L589.8 317.55 L582.9 329.5 Z" fill="#fff" stroke="none" stroke-width="1.25" stroke-linejoin="miter" />
<clipPath id="h15"><path d="M575.8 329.5 L568.9 317.55 L575.8 305.6 L582.9 305.6 L589.8 317.55 L582.9 329.5 Z"/></clipPath>
<path clip-path="url(#h15)" d="M548.66 329.5L561.43 305.6M555.02 329.5L567.79 305.6M561.38 329.5L574.15 305.6M567.74 329.5L580.51 305.6M574.1 329.5L586.87 305.6M580.46 329.5L593.23 305.6M586.82 329.5L599.59 305.6M593.18 329.5L605.95 305.6M599.54 329.5L612.31 305.6" stroke="#1c1c1c" stroke-width="0.78" fill="none"/>
<path d="M575.8 329.5 L568.9 317.55 L575.8 305.6 L582.9 305.6 L589.8 317.55 L582.9 329.5 Z" fill="none" stroke="#444" stroke-width="1.25" stroke-linejoin="miter" />
<path d="M596.7 329.5 L589.8 317.55 L596.7 305.6 L656.7 305.6 L663.6 317.55 L656.7 329.5 Z" fill="#fff" stroke="none" stroke-width="1.25" stroke-linejoin="miter" />
<path d="M596.7 329.5 L589.8 317.55 L596.7 305.6 L656.7 305.6 L663.6 317.55 L656.7 329.5 Z" fill="#fff" stroke="none" stroke-width="1.25" stroke-linejoin="miter" />
<path d="M596.7 329.5 L589.8 317.55 L596.7 305.6 L656.7 305.6 L663.6 317.55 L656.7 329.5 Z" fill="none" stroke="#444" stroke-width="1.25" stroke-linejoin="miter" />
<path d="M670.5 329.5 L663.6 317.55 L670.5 305.6 L677.1 305.6 L684 317.55 L677.1 329.5 Z" fill="#fff" stroke="none" stroke-width="1.25" stroke-linejoin="miter" />
<clipPath id="h16"><path d="M670.5 329.5 L663.6 317.55 L670.5 305.6 L677.1 305.6 L684 317.55 L677.1 329.5 Z"/></clipPath>
<path clip-path="url(#h16)" d="M644.06 329.5L656.83 305.6M650.42 329.5L663.19 305.6M656.78 329.5L669.55 305.6M663.14 329.5L675.91 305.6M669.5 329.5L682.27 305.6M675.86 329.5L688.63 305.6M682.22 329.5L694.99 305.6M688.58 329.5L701.35 305.6M694.94 329.5L707.71 305.6" stroke="#1c1c1c" stroke-width="0.78" fill="none"/>
<path d="M670.5 329.5 L663.6 317.55 L670.5 305.6 L677.1 305.6 L684 317.55 L677.1 329.5 Z" fill="none" stroke="#444" stroke-width="1.25" stroke-linejoin="miter" />
<path d="M690.9 329.5 L684 317.55 L690.9 305.6 L750.8 305.6 L757.7 317.55 L750.8 329.5 Z" fill="#fff" stroke="none" stroke-width="1.25" stroke-linejoin="miter" />
<path d="M690.9 329.5 L684 317.55 L690.9 305.6 L750.8 305.6 L757.7 317.55 L750.8 329.5 Z" fill="#fff" stroke="none" stroke-width="1.25" stroke-linejoin="miter" />
<path d="M690.9 329.5 L684 317.55 L690.9 305.6 L750.8 305.6 L757.7 317.55 L750.8 329.5 Z" fill="none" stroke="#444" stroke-width="1.25" stroke-linejoin="miter" />
<path d="M764.6 329.5 L757.7 317.55 L764.6 305.6 L771.8 305.6 L778.7 317.55 L771.8 329.5 Z" fill="#fff" stroke="none" stroke-width="1.25" stroke-linejoin="miter" />
<clipPath id="h17"><path d="M764.6 329.5 L757.7 317.55 L764.6 305.6 L771.8 305.6 L778.7 317.55 L771.8 329.5 Z"/></clipPath>
<path clip-path="url(#h17)" d="M733.1 329.5L745.87 305.6M739.46 329.5L752.23 305.6M745.82 329.5L758.59 305.6M752.18 329.5L764.95 305.6M758.54 329.5L771.31 305.6M764.9 329.5L777.67 305.6M771.26 329.5L784.03 305.6M777.62 329.5L790.39 305.6M783.98 329.5L796.75 305.6M790.34 329.5L803.11 305.6" stroke="#1c1c1c" stroke-width="0.78" fill="none"/>
<path d="M764.6 329.5 L757.7 317.55 L764.6 305.6 L771.8 305.6 L778.7 317.55 L771.8 329.5 Z" fill="none" stroke="#444" stroke-width="1.25" stroke-linejoin="miter" />
<path d="M785.6 329.5 L778.7 317.55 L785.6 305.6 L845.4 305.6 L852.3 317.55 L845.4 329.5 Z" fill="#fff" stroke="none" stroke-width="1.25" stroke-linejoin="miter" />
<path d="M785.6 329.5 L778.7 317.55 L785.6 305.6 L845.4 305.6 L852.3 317.55 L845.4 329.5 Z" fill="#fff" stroke="none" stroke-width="1.25" stroke-linejoin="miter" />
<path d="M785.6 329.5 L778.7 317.55 L785.6 305.6 L845.4 305.6 L852.3 317.55 L845.4 329.5 Z" fill="none" stroke="#444" stroke-width="1.25" stroke-linejoin="miter" />
<path d="M859.2 329.5 L852.3 317.55 L859.2 305.6 L866.3 305.6 L873.2 317.55 L866.3 329.5 Z" fill="#fff" stroke="none" stroke-width="1.25" stroke-linejoin="miter" />
<clipPath id="h18"><path d="M859.2 329.5 L852.3 317.55 L859.2 305.6 L866.3 305.6 L873.2 317.55 L866.3 329.5 Z"/></clipPath>
<path clip-path="url(#h18)" d="M828.5 329.5L841.27 305.6M834.86 329.5L847.63 305.6M841.22 329.5L853.99 305.6M847.58 329.5L860.35 305.6M853.94 329.5L866.71 305.6M860.3 329.5L873.07 305.6M866.66 329.5L879.43 305.6M873.02 329.5L885.79 305.6M879.38 329.5L892.15 305.6M885.74 329.5L898.51 305.6" stroke="#1c1c1c" stroke-width="0.78" fill="none"/>
<path d="M859.2 329.5 L852.3 317.55 L859.2 305.6 L866.3 305.6 L873.2 317.55 L866.3 329.5 Z" fill="none" stroke="#444" stroke-width="1.25" stroke-linejoin="miter" />
<path d="M880.1 329.5 L873.2 317.55 L880.1 305.6 L942.3 305.6 L949.2 317.55 L942.3 329.5 Z" fill="#fff" stroke="none" stroke-width="1.25" stroke-linejoin="miter" />
<path d="M880.1 329.5 L873.2 317.55 L880.1 305.6 L942.3 305.6 L949.2 317.55 L942.3 329.5 Z" fill="#fff" stroke="none" stroke-width="1.25" stroke-linejoin="miter" />
<path d="M880.1 329.5 L873.2 317.55 L880.1 305.6 L942.3 305.6 L949.2 317.55 L942.3 329.5 Z" fill="none" stroke="#444" stroke-width="1.25" stroke-linejoin="miter" />
<path d="M956.1 329.5 L949.2 317.55 L956.1 305.6 L995.5 305.6 L995.5 329.5 Z" fill="#fff" stroke="none" stroke-width="1.25" stroke-linejoin="miter" />
<clipPath id="h19"><path d="M956.1 329.5 L949.2 317.55 L956.1 305.6 L995.5 305.6 L995.5 329.5 Z"/></clipPath>
<path clip-path="url(#h19)" d="M923.9 329.5L936.67 305.6M930.26 329.5L943.03 305.6M936.62 329.5L949.39 305.6M942.98 329.5L955.75 305.6M949.34 329.5L962.11 305.6M955.7 329.5L968.47 305.6M962.06 329.5L974.83 305.6M968.42 329.5L981.19 305.6M974.78 329.5L987.55 305.6M981.14 329.5L993.91 305.6M987.5 329.5L1000.27 305.6M993.86 329.5L1006.63 305.6M1000.22 329.5L1012.99 305.6M1006.58 329.5L1019.35 305.6" stroke="#1c1c1c" stroke-width="0.78" fill="none"/>
<path d="M995.5 305.6 L956.1 305.6 L949.2 317.55 L956.1 329.5 L995.5 329.5" fill="none" stroke="#444" stroke-width="1.25" stroke-linejoin="miter" />
<clipPath id="h20"><path d="M108.2 305.6 L112 305.6 L116.6 317.55 L112 329.5 L108.2 329.5 Z"/></clipPath>
<path clip-path="url(#h20)" d="M84.38 329.5L97.15 305.6M90.74 329.5L103.51 305.6M97.1 329.5L109.87 305.6M103.46 329.5L116.23 305.6M109.82 329.5L122.59 305.6M116.18 329.5L128.95 305.6M122.54 329.5L135.31 305.6M128.9 329.5L141.67 305.6" stroke="#1c1c1c" stroke-width="0.78" fill="none"/>
<path d="M108.2 305.6 L111.5 305.6 L116.6 317.55 L111.5 329.5 L108.2 329.5" fill="none" stroke="#444" stroke-width="1.25" stroke-linejoin="miter" />
<text x="153.2" y="321.6" font-size="10.5" text-anchor="middle" font-weight="normal" fill="#1a1a1a" textLength="33.6" lengthAdjust="spacingAndGlyphs" >ACTIVE</text>
<text x="249.8" y="321.6" font-size="10.5" text-anchor="middle" font-weight="normal" fill="#1a1a1a" textLength="20.6" lengthAdjust="spacingAndGlyphs" >NOP</text>
<text x="343.5" y="321.6" font-size="10.5" text-anchor="middle" font-weight="normal" fill="#1a1a1a" textLength="26.8" lengthAdjust="spacingAndGlyphs" >READ</text>
<text x="436.5" y="321.6" font-size="10.5" text-anchor="middle" font-weight="normal" fill="#1a1a1a" textLength="20.6" lengthAdjust="spacingAndGlyphs" >NOP</text>
<text x="531" y="321.6" font-size="10.5" text-anchor="middle" font-weight="normal" fill="#1a1a1a" textLength="20.6" lengthAdjust="spacingAndGlyphs" >NOP</text>
<text x="630.1" y="321.6" font-size="10.5" text-anchor="middle" font-weight="normal" fill="#1a1a1a" textLength="20.6" lengthAdjust="spacingAndGlyphs" >NOP</text>
<text x="723.1" y="321.6" font-size="10.5" text-anchor="middle" font-weight="normal" fill="#1a1a1a" textLength="20.6" lengthAdjust="spacingAndGlyphs" >NOP</text>
<text x="812.6" y="321.6" font-size="10.5" text-anchor="middle" font-weight="normal" fill="#1a1a1a" textLength="20.6" lengthAdjust="spacingAndGlyphs" >NOP</text>
<text x="913.5" y="321.6" font-size="10.5" text-anchor="middle" font-weight="normal" fill="#1a1a1a" textLength="33.6" lengthAdjust="spacingAndGlyphs" >ACTIVE</text>
<line x1="119.6" y1="300.3" x2="142.3" y2="300.3" stroke="#111" stroke-width="1.1" />
<path d="M117.6 300.3 L125.1 298.2 L125.1 302.4 Z" fill="#111"/>
<path d="M144.3 300.3 L136.8 298.2 L136.8 302.4 Z" fill="#111"/>
<line x1="149.1" y1="300.3" x2="188.2" y2="300.3" stroke="#111" stroke-width="1.1" />
<path d="M147.1 300.3 L154.6 298.2 L154.6 302.4 Z" fill="#111"/>
<path d="M190.2 300.3 L182.7 298.2 L182.7 302.4 Z" fill="#111"/>
<line x1="116.4" y1="297.1" x2="116.4" y2="317.55" stroke="#111" stroke-width="1.1" />
<line x1="191.4" y1="298.1" x2="191.4" y2="319.55" stroke="#111" stroke-width="1.1" />
<text x="112.8" y="291" font-size="11.8" fill="#1a1a1a" textLength="29.4" lengthAdjust="spacingAndGlyphs">t<tspan font-size="11.3" dy="3.9">CMS</tspan></text>
<text x="153.9" y="291" font-size="11.8" fill="#1a1a1a" textLength="31.6" lengthAdjust="spacingAndGlyphs">t<tspan font-size="11.3" dy="3.9">CMH</tspan></text>
<line x1="300" y1="384.7" x2="996" y2="384.7" stroke="#111" stroke-width="1.3" />
<path d="M106.5 361.3 L304.5 361.3 L318.7 384.7 L106.5 384.7 Z" fill="#fff" stroke="none" stroke-width="1.25" stroke-linejoin="miter" />
<clipPath id="h21"><path d="M106.5 361.3 L304.5 361.3 L318.7 384.7 L106.5 384.7 Z"/></clipPath>
<path clip-path="url(#h21)" d="M84.38 384.7L96.89 361.3M90.74 384.7L103.25 361.3M97.1 384.7L109.61 361.3M103.46 384.7L115.97 361.3M109.82 384.7L122.33 361.3M116.18 384.7L128.69 361.3M122.54 384.7L135.05 361.3M128.9 384.7L141.41 361.3M135.26 384.7L147.77 361.3M141.62 384.7L154.13 361.3M147.98 384.7L160.49 361.3M154.34 384.7L166.85 361.3M160.7 384.7L173.21 361.3M167.06 384.7L179.57 361.3M173.42 384.7L185.93 361.3M179.78 384.7L192.29 361.3M186.14 384.7L198.65 361.3M192.5 384.7L205.01 361.3M198.86 384.7L211.37 361.3M205.22 384.7L217.73 361.3M211.58 384.7L224.09 361.3M217.94 384.7L230.45 361.3M224.3 384.7L236.81 361.3M230.66 384.7L243.17 361.3M237.02 384.7L249.53 361.3M243.38 384.7L255.89 361.3M249.74 384.7L262.25 361.3M256.1 384.7L268.61 361.3M262.46 384.7L274.97 361.3M268.82 384.7L281.33 361.3M275.18 384.7L287.69 361.3M281.54 384.7L294.05 361.3M287.9 384.7L300.41 361.3M294.26 384.7L306.77 361.3M300.62 384.7L313.13 361.3M306.98 384.7L319.49 361.3M313.34 384.7L325.85 361.3M319.7 384.7L332.21 361.3M326.06 384.7L338.57 361.3" stroke="#1c1c1c" stroke-width="0.78" fill="none"/>
<path d="M106.5 361.3 L304.5 361.3 L318.7 384.7 L106.5 384.7" fill="none" stroke="#444" stroke-width="1.25" stroke-linejoin="miter" />
<path d="M355.4 384.7 L369.4 361.3 L398.2 361.3 L412.2 384.7 Z" fill="#fff" stroke="none" stroke-width="1.25" stroke-linejoin="miter" />
<clipPath id="h22"><path d="M355.4 384.7 L369.4 361.3 L398.2 361.3 L412.2 384.7 Z"/></clipPath>
<path clip-path="url(#h22)" d="M332.42 384.7L344.93 361.3M338.78 384.7L351.29 361.3M345.14 384.7L357.65 361.3M351.5 384.7L364.01 361.3M357.86 384.7L370.37 361.3M364.22 384.7L376.73 361.3M370.58 384.7L383.09 361.3M376.94 384.7L389.45 361.3M383.3 384.7L395.81 361.3M389.66 384.7L402.17 361.3M396.02 384.7L408.53 361.3M402.38 384.7L414.89 361.3M408.74 384.7L421.25 361.3M415.1 384.7L427.61 361.3M421.46 384.7L433.97 361.3" stroke="#1c1c1c" stroke-width="0.78" fill="none"/>
<path d="M355.4 384.7 L369.4 361.3 L398.2 361.3 L412.2 384.7" fill="none" stroke="#222" stroke-width="1.25" stroke-linejoin="miter" />
<line x1="355.4" y1="384.7" x2="412.2" y2="384.7" stroke="#444" stroke-width="1.3" />
<path d="M449.6 384.7 L463.6 361.3 L492.4 361.3 L506.4 384.7 Z" fill="#fff" stroke="none" stroke-width="1.25" stroke-linejoin="miter" />
<clipPath id="h23"><path d="M449.6 384.7 L463.6 361.3 L492.4 361.3 L506.4 384.7 Z"/></clipPath>
<path clip-path="url(#h23)" d="M427.82 384.7L440.33 361.3M434.18 384.7L446.69 361.3M440.54 384.7L453.05 361.3M446.9 384.7L459.41 361.3M453.26 384.7L465.77 361.3M459.62 384.7L472.13 361.3M465.98 384.7L478.49 361.3M472.34 384.7L484.85 361.3M478.7 384.7L491.21 361.3M485.06 384.7L497.57 361.3M491.42 384.7L503.93 361.3M497.78 384.7L510.29 361.3M504.14 384.7L516.65 361.3M510.5 384.7L523.01 361.3M516.86 384.7L529.37 361.3" stroke="#1c1c1c" stroke-width="0.78" fill="none"/>
<path d="M449.6 384.7 L463.6 361.3 L492.4 361.3 L506.4 384.7" fill="none" stroke="#222" stroke-width="1.25" stroke-linejoin="miter" />
<line x1="449.6" y1="384.7" x2="506.4" y2="384.7" stroke="#444" stroke-width="1.3" />
<path d="M543.8 384.7 L557.8 361.3 L586.6 361.3 L600.6 384.7 Z" fill="#fff" stroke="none" stroke-width="1.25" stroke-linejoin="miter" />
<clipPath id="h24"><path d="M543.8 384.7 L557.8 361.3 L586.6 361.3 L600.6 384.7 Z"/></clipPath>
<path clip-path="url(#h24)" d="M523.22 384.7L535.73 361.3M529.58 384.7L542.09 361.3M535.94 384.7L548.45 361.3M542.3 384.7L554.81 361.3M548.66 384.7L561.17 361.3M555.02 384.7L567.53 361.3M561.38 384.7L573.89 361.3M567.74 384.7L580.25 361.3M574.1 384.7L586.61 361.3M580.46 384.7L592.97 361.3M586.82 384.7L599.33 361.3M593.18 384.7L605.69 361.3M599.54 384.7L612.05 361.3M605.9 384.7L618.41 361.3M612.26 384.7L624.77 361.3" stroke="#1c1c1c" stroke-width="0.78" fill="none"/>
<path d="M543.8 384.7 L557.8 361.3 L586.6 361.3 L600.6 384.7" fill="none" stroke="#222" stroke-width="1.25" stroke-linejoin="miter" />
<line x1="543.8" y1="384.7" x2="600.6" y2="384.7" stroke="#444" stroke-width="1.3" />
<path d="M634.2 384.7 L648.2 361.3 L995.5 361.3 L995.5 384.7 Z" fill="#fff" stroke="none" stroke-width="1.25" stroke-linejoin="miter" />
<clipPath id="h25"><path d="M634.2 384.7 L648.2 361.3 L995.5 361.3 L995.5 384.7 Z"/></clipPath>
<path clip-path="url(#h25)" d="M612.26 384.7L624.77 361.3M618.62 384.7L631.13 361.3M624.98 384.7L637.49 361.3M631.34 384.7L643.85 361.3M637.7 384.7L650.21 361.3M644.06 384.7L656.57 361.3M650.42 384.7L662.93 361.3M656.78 384.7L669.29 361.3M663.14 384.7L675.65 361.3M669.5 384.7L682.01 361.3M675.86 384.7L688.37 361.3M682.22 384.7L694.73 361.3M688.58 384.7L701.09 361.3M694.94 384.7L707.45 361.3M701.3 384.7L713.81 361.3M707.66 384.7L720.17 361.3M714.02 384.7L726.53 361.3M720.38 384.7L732.89 361.3M726.74 384.7L739.25 361.3M733.1 384.7L745.61 361.3M739.46 384.7L751.97 361.3M745.82 384.7L758.33 361.3M752.18 384.7L764.69 361.3M758.54 384.7L771.05 361.3M764.9 384.7L777.41 361.3M771.26 384.7L783.77 361.3M777.62 384.7L790.13 361.3M783.98 384.7L796.49 361.3M790.34 384.7L802.85 361.3M796.7 384.7L809.21 361.3M803.06 384.7L815.57 361.3M809.42 384.7L821.93 361.3M815.78 384.7L828.29 361.3M822.14 384.7L834.65 361.3M828.5 384.7L841.01 361.3M834.86 384.7L847.37 361.3M841.22 384.7L853.73 361.3M847.58 384.7L860.09 361.3M853.94 384.7L866.45 361.3M860.3 384.7L872.81 361.3M866.66 384.7L879.17 361.3M873.02 384.7L885.53 361.3M879.38 384.7L891.89 361.3M885.74 384.7L898.25 361.3M892.1 384.7L904.61 361.3M898.46 384.7L910.97 361.3M904.82 384.7L917.33 361.3M911.18 384.7L923.69 361.3M917.54 384.7L930.05 361.3M923.9 384.7L936.41 361.3M930.26 384.7L942.77 361.3M936.62 384.7L949.13 361.3M942.98 384.7L955.49 361.3M949.34 384.7L961.85 361.3M955.7 384.7L968.21 361.3M962.06 384.7L974.57 361.3M968.42 384.7L980.93 361.3M974.78 384.7L987.29 361.3M981.14 384.7L993.65 361.3M987.5 384.7L1000.01 361.3M993.86 384.7L1006.37 361.3M1000.22 384.7L1012.73 361.3M1006.58 384.7L1019.09 361.3" stroke="#1c1c1c" stroke-width="0.78" fill="none"/>
<path d="M995.5 384.7 L634.2 384.7 L648.2 361.3 L995.5 361.3" fill="none" stroke="#444" stroke-width="1.25" stroke-linejoin="miter" />
<line x1="314" y1="359.3" x2="330.9" y2="359.3" stroke="#111" stroke-width="1.1" />
<path d="M312 359.3 L319.5 357.2 L319.5 361.4 Z" fill="#111"/>
<path d="M332.9 359.3 L325.4 357.2 L325.4 361.4 Z" fill="#111"/>
<line x1="338.9" y1="359.3" x2="359.8" y2="359.3" stroke="#111" stroke-width="1.1" />
<path d="M336.9 359.3 L344.4 357.2 L344.4 361.4 Z" fill="#111"/>
<path d="M361.8 359.3 L354.3 357.2 L354.3 361.4 Z" fill="#111"/>
<line x1="310.5" y1="357" x2="310.5" y2="374.4" stroke="#111" stroke-width="1.1" />
<line x1="307.5" y1="372.4" x2="313.9" y2="372.4" stroke="#111" stroke-width="1.1" />
<line x1="363.3" y1="357" x2="363.3" y2="374.4" stroke="#111" stroke-width="1.1" />
<line x1="360.1" y1="372.4" x2="366.5" y2="372.4" stroke="#111" stroke-width="1.1" />
<text x="300.7" y="348" font-size="11.8" fill="#1a1a1a" textLength="29.4" lengthAdjust="spacingAndGlyphs">t<tspan font-size="11.3" dy="3.6">CMS</tspan></text>
<text x="345.3" y="349" font-size="11.8" fill="#1a1a1a" textLength="31.6" lengthAdjust="spacingAndGlyphs">t<tspan font-size="11.3" dy="3.5">CMH</tspan></text>
<clipPath id="h26"><path d="M106.6 418.1 L110.4 418.1 L115.4 429.7 L110.4 441.3 L106.6 441.3 Z"/></clipPath>
<path clip-path="url(#h26)" d="M84.38 441.3L96.78 418.1M90.74 441.3L103.14 418.1M97.1 441.3L109.5 418.1M103.46 441.3L115.86 418.1M109.82 441.3L122.22 418.1M116.18 441.3L128.58 418.1M122.54 441.3L134.94 418.1" stroke="#1c1c1c" stroke-width="0.78" fill="none"/>
<path d="M106.6 418.1 L109.6 418.1 L115.4 429.7 L109.6 441.3 L106.6 441.3" fill="none" stroke="#444" stroke-width="1.25" stroke-linejoin="miter" />
<path d="M122.1 441.3 L115.6 429.7 L122.1 418.1 L183.3 418.1 L189.8 429.7 L183.3 441.3 Z" fill="#fff" stroke="none" stroke-width="1.25" stroke-linejoin="miter" />
<path d="M122.1 441.3 L115.6 429.7 L122.1 418.1 L183.3 418.1 L189.8 429.7 L183.3 441.3 Z" fill="#b9d7d6" stroke="none" stroke-width="1.25" stroke-linejoin="miter" />
<path d="M122.1 441.3 L115.6 429.7 L122.1 418.1 L183.3 418.1 L189.8 429.7 L183.3 441.3 Z" fill="none" stroke="#444" stroke-width="1.25" stroke-linejoin="miter" />
<path d="M196.3 441.3 L189.8 429.7 L196.3 418.1 L298.2 418.1 L304.7 429.7 L298.2 441.3 Z" fill="#fff" stroke="none" stroke-width="1.25" stroke-linejoin="miter" />
<clipPath id="h27"><path d="M196.3 441.3 L189.8 429.7 L196.3 418.1 L298.2 418.1 L304.7 429.7 L298.2 441.3 Z"/></clipPath>
<path clip-path="url(#h27)" d="M167.06 441.3L179.46 418.1M173.42 441.3L185.82 418.1M179.78 441.3L192.18 418.1M186.14 441.3L198.54 418.1M192.5 441.3L204.9 418.1M198.86 441.3L211.26 418.1M205.22 441.3L217.62 418.1M211.58 441.3L223.98 418.1M217.94 441.3L230.34 418.1M224.3 441.3L236.7 418.1M230.66 441.3L243.06 418.1M237.02 441.3L249.42 418.1M243.38 441.3L255.78 418.1M249.74 441.3L262.14 418.1M256.1 441.3L268.5 418.1M262.46 441.3L274.86 418.1M268.82 441.3L281.22 418.1M275.18 441.3L287.58 418.1M281.54 441.3L293.94 418.1M287.9 441.3L300.3 418.1M294.26 441.3L306.66 418.1M300.62 441.3L313.02 418.1M306.98 441.3L319.38 418.1M313.34 441.3L325.74 418.1" stroke="#1c1c1c" stroke-width="0.78" fill="none"/>
<path d="M196.3 441.3 L189.8 429.7 L196.3 418.1 L298.2 418.1 L304.7 429.7 L298.2 441.3 Z" fill="none" stroke="#444" stroke-width="1.25" stroke-linejoin="miter" />
<path d="M311.2 441.3 L304.7 429.7 L311.2 418.1 L372.3 418.1 L378.8 429.7 L372.3 441.3 Z" fill="#fff" stroke="none" stroke-width="1.25" stroke-linejoin="miter" />
<path d="M311.2 441.3 L304.7 429.7 L311.2 418.1 L372.3 418.1 L378.8 429.7 L372.3 441.3 Z" fill="#b9d7d6" stroke="none" stroke-width="1.25" stroke-linejoin="miter" />
<path d="M311.2 441.3 L304.7 429.7 L311.2 418.1 L372.3 418.1 L378.8 429.7 L372.3 441.3 Z" fill="none" stroke="#444" stroke-width="1.25" stroke-linejoin="miter" />
<path d="M385.3 441.3 L378.8 429.7 L385.3 418.1 L866.4 418.1 L872.9 429.7 L866.4 441.3 Z" fill="#fff" stroke="none" stroke-width="1.25" stroke-linejoin="miter" />
<clipPath id="h28"><path d="M385.3 441.3 L378.8 429.7 L385.3 418.1 L866.4 418.1 L872.9 429.7 L866.4 441.3 Z"/></clipPath>
<path clip-path="url(#h28)" d="M357.86 441.3L370.26 418.1M364.22 441.3L376.62 418.1M370.58 441.3L382.98 418.1M376.94 441.3L389.34 418.1M383.3 441.3L395.7 418.1M389.66 441.3L402.06 418.1M396.02 441.3L408.42 418.1M402.38 441.3L414.78 418.1M408.74 441.3L421.14 418.1M415.1 441.3L427.5 418.1M421.46 441.3L433.86 418.1M427.82 441.3L440.22 418.1M434.18 441.3L446.58 418.1M440.54 441.3L452.94 418.1M446.9 441.3L459.3 418.1M453.26 441.3L465.66 418.1M459.62 441.3L472.02 418.1M465.98 441.3L478.38 418.1M472.34 441.3L484.74 418.1M478.7 441.3L491.1 418.1M485.06 441.3L497.46 418.1M491.42 441.3L503.82 418.1M497.78 441.3L510.18 418.1M504.14 441.3L516.54 418.1M510.5 441.3L522.9 418.1M516.86 441.3L529.26 418.1M523.22 441.3L535.62 418.1M529.58 441.3L541.98 418.1M535.94 441.3L548.34 418.1M542.3 441.3L554.7 418.1M548.66 441.3L561.06 418.1M555.02 441.3L567.42 418.1M561.38 441.3L573.78 418.1M567.74 441.3L580.14 418.1M574.1 441.3L586.5 418.1M580.46 441.3L592.86 418.1M586.82 441.3L599.22 418.1M593.18 441.3L605.58 418.1M599.54 441.3L611.94 418.1M605.9 441.3L618.3 418.1M612.26 441.3L624.66 418.1M618.62 441.3L631.02 418.1M624.98 441.3L637.38 418.1M631.34 441.3L643.74 418.1M637.7 441.3L650.1 418.1M644.06 441.3L656.46 418.1M650.42 441.3L662.82 418.1M656.78 441.3L669.18 418.1M663.14 441.3L675.54 418.1M669.5 441.3L681.9 418.1M675.86 441.3L688.26 418.1M682.22 441.3L694.62 418.1M688.58 441.3L700.98 418.1M694.94 441.3L707.34 418.1M701.3 441.3L713.7 418.1M707.66 441.3L720.06 418.1M714.02 441.3L726.42 418.1M720.38 441.3L732.78 418.1M726.74 441.3L739.14 418.1M733.1 441.3L745.5 418.1M739.46 441.3L751.86 418.1M745.82 441.3L758.22 418.1M752.18 441.3L764.58 418.1M758.54 441.3L770.94 418.1M764.9 441.3L777.3 418.1M771.26 441.3L783.66 418.1M777.62 441.3L790.02 418.1M783.98 441.3L796.38 418.1M790.34 441.3L802.74 418.1M796.7 441.3L809.1 418.1M803.06 441.3L815.46 418.1M809.42 441.3L821.82 418.1M815.78 441.3L828.18 418.1M822.14 441.3L834.54 418.1M828.5 441.3L840.9 418.1M834.86 441.3L847.26 418.1M841.22 441.3L853.62 418.1M847.58 441.3L859.98 418.1M853.94 441.3L866.34 418.1M860.3 441.3L872.7 418.1M866.66 441.3L879.06 418.1M873.02 441.3L885.42 418.1M879.38 441.3L891.78 418.1" stroke="#1c1c1c" stroke-width="0.78" fill="none"/>
<path d="M385.3 441.3 L378.8 429.7 L385.3 418.1 L866.4 418.1 L872.9 429.7 L866.4 441.3 Z" fill="none" stroke="#444" stroke-width="1.25" stroke-linejoin="miter" />
<path d="M879.4 441.3 L872.9 429.7 L879.4 418.1 L940.3 418.1 L946.8 429.7 L940.3 441.3 Z" fill="#fff" stroke="none" stroke-width="1.25" stroke-linejoin="miter" />
<path d="M879.4 441.3 L872.9 429.7 L879.4 418.1 L940.3 418.1 L946.8 429.7 L940.3 441.3 Z" fill="#b9d7d6" stroke="none" stroke-width="1.25" stroke-linejoin="miter" />
<path d="M879.4 441.3 L872.9 429.7 L879.4 418.1 L940.3 418.1 L946.8 429.7 L940.3 441.3 Z" fill="none" stroke="#444" stroke-width="1.25" stroke-linejoin="miter" />
<path d="M953.3 441.3 L946.8 429.7 L953.3 418.1 L995.5 418.1 L995.5 441.3 Z" fill="#fff" stroke="none" stroke-width="1.25" stroke-linejoin="miter" />
<clipPath id="h29"><path d="M953.3 441.3 L946.8 429.7 L953.3 418.1 L995.5 418.1 L995.5 441.3 Z"/></clipPath>
<path clip-path="url(#h29)" d="M923.9 441.3L936.3 418.1M930.26 441.3L942.66 418.1M936.62 441.3L949.02 418.1M942.98 441.3L955.38 418.1M949.34 441.3L961.74 418.1M955.7 441.3L968.1 418.1M962.06 441.3L974.46 418.1M968.42 441.3L980.82 418.1M974.78 441.3L987.18 418.1M981.14 441.3L993.54 418.1M987.5 441.3L999.9 418.1M993.86 441.3L1006.26 418.1M1000.22 441.3L1012.62 418.1M1006.58 441.3L1018.98 418.1" stroke="#1c1c1c" stroke-width="0.78" fill="none"/>
<path d="M995.5 418.1 L953.3 418.1 L946.8 429.7 L953.3 441.3 L995.5 441.3" fill="none" stroke="#444" stroke-width="1.25" stroke-linejoin="miter" />
<line x1="118.8" y1="412.2" x2="142.3" y2="412.2" stroke="#111" stroke-width="1.1" />
<path d="M116.8 412.2 L124.3 410.1 L124.3 414.3 Z" fill="#111"/>
<path d="M144.3 412.2 L136.8 410.1 L136.8 414.3 Z" fill="#111"/>
<line x1="149.3" y1="412.2" x2="186.4" y2="412.2" stroke="#111" stroke-width="1.1" />
<path d="M147.3 412.2 L154.8 410.1 L154.8 414.3 Z" fill="#111"/>
<path d="M188.4 412.2 L180.9 410.1 L180.9 414.3 Z" fill="#111"/>
<line x1="115.4" y1="409" x2="115.4" y2="429.7" stroke="#111" stroke-width="1.1" />
<line x1="189.6" y1="409.8" x2="189.6" y2="431.2" stroke="#111" stroke-width="1.1" />
<text x="122.5" y="402.3" font-size="11.8" fill="#1a1a1a" textLength="17.9" lengthAdjust="spacingAndGlyphs">t<tspan font-size="11.3" dy="3.2">AS</tspan></text>
<text x="160.3" y="402.3" font-size="11.8" fill="#1a1a1a" textLength="20.8" lengthAdjust="spacingAndGlyphs">t<tspan font-size="11.3" dy="3.3">AH</tspan></text>
<clipPath id="h30"><path d="M106.6 488.4 L110.4 488.4 L115.4 500 L110.4 511.6 L106.6 511.6 Z"/></clipPath>
<path clip-path="url(#h30)" d="M84.38 511.6L96.78 488.4M90.74 511.6L103.14 488.4M97.1 511.6L109.5 488.4M103.46 511.6L115.86 488.4M109.82 511.6L122.22 488.4M116.18 511.6L128.58 488.4M122.54 511.6L134.94 488.4" stroke="#1c1c1c" stroke-width="0.78" fill="none"/>
<path d="M106.6 488.4 L109.6 488.4 L115.4 500 L109.6 511.6 L106.6 511.6" fill="none" stroke="#444" stroke-width="1.25" stroke-linejoin="miter" />
<path d="M122.1 511.6 L115.6 500 L122.1 488.4 L183.3 488.4 L189.8 500 L183.3 511.6 Z" fill="#fff" stroke="none" stroke-width="1.25" stroke-linejoin="miter" />
<path d="M122.1 511.6 L115.6 500 L122.1 488.4 L183.3 488.4 L189.8 500 L183.3 511.6 Z" fill="#b9d7d6" stroke="none" stroke-width="1.25" stroke-linejoin="miter" />
<path d="M122.1 511.6 L115.6 500 L122.1 488.4 L183.3 488.4 L189.8 500 L183.3 511.6 Z" fill="none" stroke="#444" stroke-width="1.25" stroke-linejoin="miter" />
<path d="M879.4 511.6 L872.9 500 L879.4 488.4 L940.3 488.4 L946.8 500 L940.3 511.6 Z" fill="#fff" stroke="none" stroke-width="1.25" stroke-linejoin="miter" />
<path d="M879.4 511.6 L872.9 500 L879.4 488.4 L940.3 488.4 L946.8 500 L940.3 511.6 Z" fill="#b9d7d6" stroke="none" stroke-width="1.25" stroke-linejoin="miter" />
<path d="M879.4 511.6 L872.9 500 L879.4 488.4 L940.3 488.4 L946.8 500 L940.3 511.6 Z" fill="none" stroke="#444" stroke-width="1.25" stroke-linejoin="miter" />
<path d="M953.3 511.6 L946.8 500 L953.3 488.4 L995.5 488.4 L995.5 511.6 Z" fill="#fff" stroke="none" stroke-width="1.25" stroke-linejoin="miter" />
<clipPath id="h31"><path d="M953.3 511.6 L946.8 500 L953.3 488.4 L995.5 488.4 L995.5 511.6 Z"/></clipPath>
<path clip-path="url(#h31)" d="M923.9 511.6L936.3 488.4M930.26 511.6L942.66 488.4M936.62 511.6L949.02 488.4M942.98 511.6L955.38 488.4M949.34 511.6L961.74 488.4M955.7 511.6L968.1 488.4M962.06 511.6L974.46 488.4M968.42 511.6L980.82 488.4M974.78 511.6L987.18 488.4M981.14 511.6L993.54 488.4M987.5 511.6L999.9 488.4M993.86 511.6L1006.26 488.4M1000.22 511.6L1012.62 488.4M1006.58 511.6L1018.98 488.4" stroke="#1c1c1c" stroke-width="0.78" fill="none"/>
<path d="M995.5 488.4 L953.3 488.4 L946.8 500 L953.3 511.6 L995.5 511.6" fill="none" stroke="#444" stroke-width="1.25" stroke-linejoin="miter" />
<path d="M196.3 488.4 L189.8 500 L196.3 511.6 L298 511.6 L310.7 488.4 Z" fill="#fff" stroke="none" stroke-width="1.25" stroke-linejoin="miter" />
<clipPath id="h32"><path d="M196.3 488.4 L189.8 500 L196.3 511.6 L298 511.6 L310.7 488.4 Z"/></clipPath>
<path clip-path="url(#h32)" d="M167.06 511.6L179.46 488.4M173.42 511.6L185.82 488.4M179.78 511.6L192.18 488.4M186.14 511.6L198.54 488.4M192.5 511.6L204.9 488.4M198.86 511.6L211.26 488.4M205.22 511.6L217.62 488.4M211.58 511.6L223.98 488.4M217.94 511.6L230.34 488.4M224.3 511.6L236.7 488.4M230.66 511.6L243.06 488.4M237.02 511.6L249.42 488.4M243.38 511.6L255.78 488.4M249.74 511.6L262.14 488.4M256.1 511.6L268.5 488.4M262.46 511.6L274.86 488.4M268.82 511.6L281.22 488.4M275.18 511.6L287.58 488.4M281.54 511.6L293.94 488.4M287.9 511.6L300.3 488.4M294.26 511.6L306.66 488.4M300.62 511.6L313.02 488.4M306.98 511.6L319.38 488.4M313.34 511.6L325.74 488.4M319.7 511.6L332.1 488.4" stroke="#1c1c1c" stroke-width="0.78" fill="none"/>
<path d="M196.3 488.4 L189.8 500 L196.3 511.6 L298 511.6 L310.7 488.4 Z" fill="none" stroke="#444" stroke-width="1.25" stroke-linejoin="miter" />
<line x1="310.7" y1="488.4" x2="372.3" y2="488.4" stroke="#444" stroke-width="1.25" />
<path d="M372.3 488.4 L385.6 511.6 L866.4 511.6 L872.9 500 L866.4 488.4 Z" fill="#fff" stroke="none" stroke-width="1.25" stroke-linejoin="miter" />
<clipPath id="h33"><path d="M372.3 488.4 L385.6 511.6 L866.4 511.6 L872.9 500 L866.4 488.4 Z"/></clipPath>
<path clip-path="url(#h33)" d="M351.5 511.6L363.9 488.4M357.86 511.6L370.26 488.4M364.22 511.6L376.62 488.4M370.58 511.6L382.98 488.4M376.94 511.6L389.34 488.4M383.3 511.6L395.7 488.4M389.66 511.6L402.06 488.4M396.02 511.6L408.42 488.4M402.38 511.6L414.78 488.4M408.74 511.6L421.14 488.4M415.1 511.6L427.5 488.4M421.46 511.6L433.86 488.4M427.82 511.6L440.22 488.4M434.18 511.6L446.58 488.4M440.54 511.6L452.94 488.4M446.9 511.6L459.3 488.4M453.26 511.6L465.66 488.4M459.62 511.6L472.02 488.4M465.98 511.6L478.38 488.4M472.34 511.6L484.74 488.4M478.7 511.6L491.1 488.4M485.06 511.6L497.46 488.4M491.42 511.6L503.82 488.4M497.78 511.6L510.18 488.4M504.14 511.6L516.54 488.4M510.5 511.6L522.9 488.4M516.86 511.6L529.26 488.4M523.22 511.6L535.62 488.4M529.58 511.6L541.98 488.4M535.94 511.6L548.34 488.4M542.3 511.6L554.7 488.4M548.66 511.6L561.06 488.4M555.02 511.6L567.42 488.4M561.38 511.6L573.78 488.4M567.74 511.6L580.14 488.4M574.1 511.6L586.5 488.4M580.46 511.6L592.86 488.4M586.82 511.6L599.22 488.4M593.18 511.6L605.58 488.4M599.54 511.6L611.94 488.4M605.9 511.6L618.3 488.4M612.26 511.6L624.66 488.4M618.62 511.6L631.02 488.4M624.98 511.6L637.38 488.4M631.34 511.6L643.74 488.4M637.7 511.6L650.1 488.4M644.06 511.6L656.46 488.4M650.42 511.6L662.82 488.4M656.78 511.6L669.18 488.4M663.14 511.6L675.54 488.4M669.5 511.6L681.9 488.4M675.86 511.6L688.26 488.4M682.22 511.6L694.62 488.4M688.58 511.6L700.98 488.4M694.94 511.6L707.34 488.4M701.3 511.6L713.7 488.4M707.66 511.6L720.06 488.4M714.02 511.6L726.42 488.4M720.38 511.6L732.78 488.4M726.74 511.6L739.14 488.4M733.1 511.6L745.5 488.4M739.46 511.6L751.86 488.4M745.82 511.6L758.22 488.4M752.18 511.6L764.58 488.4M758.54 511.6L770.94 488.4M764.9 511.6L777.3 488.4M771.26 511.6L783.66 488.4M777.62 511.6L790.02 488.4M783.98 511.6L796.38 488.4M790.34 511.6L802.74 488.4M796.7 511.6L809.1 488.4M803.06 511.6L815.46 488.4M809.42 511.6L821.82 488.4M815.78 511.6L828.18 488.4M822.14 511.6L834.54 488.4M828.5 511.6L840.9 488.4M834.86 511.6L847.26 488.4M841.22 511.6L853.62 488.4M847.58 511.6L859.98 488.4M853.94 511.6L866.34 488.4M860.3 511.6L872.7 488.4M866.66 511.6L879.06 488.4M873.02 511.6L885.42 488.4M879.38 511.6L891.78 488.4" stroke="#1c1c1c" stroke-width="0.78" fill="none"/>
<path d="M372.3 488.4 L385.6 511.6 L866.4 511.6 L872.9 500 L866.4 488.4 Z" fill="none" stroke="#444" stroke-width="1.25" stroke-linejoin="miter" />
<line x1="118.8" y1="483.5" x2="142.3" y2="483.5" stroke="#111" stroke-width="1.1" />
<path d="M116.8 483.5 L124.3 481.4 L124.3 485.6 Z" fill="#111"/>
<path d="M144.3 483.5 L136.8 481.4 L136.8 485.6 Z" fill="#111"/>
<line x1="149.3" y1="483.5" x2="186.4" y2="483.5" stroke="#111" stroke-width="1.1" />
<path d="M147.3 483.5 L154.8 481.4 L154.8 485.6 Z" fill="#111"/>
<path d="M188.4 483.5 L180.9 481.4 L180.9 485.6 Z" fill="#111"/>
<line x1="115.4" y1="480.3" x2="115.4" y2="500" stroke="#111" stroke-width="1.1" />
<line x1="189.6" y1="481.1" x2="189.6" y2="501.5" stroke="#111" stroke-width="1.1" />
<text x="122.5" y="474.3" font-size="11.8" fill="#1a1a1a" textLength="17.9" lengthAdjust="spacingAndGlyphs">t<tspan font-size="11.3" dy="3.2">AS</tspan></text>
<text x="160.3" y="474.3" font-size="11.8" fill="#1a1a1a" textLength="20.8" lengthAdjust="spacingAndGlyphs">t<tspan font-size="11.3" dy="3.3">AH</tspan></text>
<clipPath id="h34"><path d="M106.6 546.5 L110.4 546.5 L115.4 558.35 L110.4 570.2 L106.6 570.2 Z"/></clipPath>
<path clip-path="url(#h34)" d="M84.38 570.2L97.05 546.5M90.74 570.2L103.41 546.5M97.1 570.2L109.77 546.5M103.46 570.2L116.13 546.5M109.82 570.2L122.49 546.5M116.18 570.2L128.85 546.5M122.54 570.2L135.21 546.5" stroke="#1c1c1c" stroke-width="0.78" fill="none"/>
<path d="M106.6 546.5 L109.6 546.5 L115.4 558.35 L109.6 570.2 L106.6 570.2" fill="none" stroke="#444" stroke-width="1.25" stroke-linejoin="miter" />
<path d="M122.1 570.2 L115.6 558.35 L122.1 546.5 L183.3 546.5 L189.8 558.35 L183.3 570.2 Z" fill="#fff" stroke="none" stroke-width="1.25" stroke-linejoin="miter" />
<path d="M122.1 570.2 L115.6 558.35 L122.1 546.5 L183.3 546.5 L189.8 558.35 L183.3 570.2 Z" fill="#b9d7d6" stroke="none" stroke-width="1.25" stroke-linejoin="miter" />
<path d="M122.1 570.2 L115.6 558.35 L122.1 546.5 L183.3 546.5 L189.8 558.35 L183.3 570.2 Z" fill="none" stroke="#444" stroke-width="1.25" stroke-linejoin="miter" />
<path d="M196.3 570.2 L189.8 558.35 L196.3 546.5 L298.2 546.5 L304.7 558.35 L298.2 570.2 Z" fill="#fff" stroke="none" stroke-width="1.25" stroke-linejoin="miter" />
<clipPath id="h35"><path d="M196.3 570.2 L189.8 558.35 L196.3 546.5 L298.2 546.5 L304.7 558.35 L298.2 570.2 Z"/></clipPath>
<path clip-path="url(#h35)" d="M167.06 570.2L179.73 546.5M173.42 570.2L186.09 546.5M179.78 570.2L192.45 546.5M186.14 570.2L198.81 546.5M192.5 570.2L205.17 546.5M198.86 570.2L211.53 546.5M205.22 570.2L217.89 546.5M211.58 570.2L224.25 546.5M217.94 570.2L230.61 546.5M224.3 570.2L236.97 546.5M230.66 570.2L243.33 546.5M237.02 570.2L249.69 546.5M243.38 570.2L256.05 546.5M249.74 570.2L262.41 546.5M256.1 570.2L268.77 546.5M262.46 570.2L275.13 546.5M268.82 570.2L281.49 546.5M275.18 570.2L287.85 546.5M281.54 570.2L294.21 546.5M287.9 570.2L300.57 546.5M294.26 570.2L306.93 546.5M300.62 570.2L313.29 546.5M306.98 570.2L319.65 546.5M313.34 570.2L326.01 546.5" stroke="#1c1c1c" stroke-width="0.78" fill="none"/>
<path d="M196.3 570.2 L189.8 558.35 L196.3 546.5 L298.2 546.5 L304.7 558.35 L298.2 570.2 Z" fill="none" stroke="#444" stroke-width="1.25" stroke-linejoin="miter" />
<path d="M311.2 570.2 L304.7 558.35 L311.2 546.5 L372.3 546.5 L378.8 558.35 L372.3 570.2 Z" fill="#fff" stroke="none" stroke-width="1.25" stroke-linejoin="miter" />
<path d="M311.2 570.2 L304.7 558.35 L311.2 546.5 L372.3 546.5 L378.8 558.35 L372.3 570.2 Z" fill="#b9d7d6" stroke="none" stroke-width="1.25" stroke-linejoin="miter" />
<path d="M311.2 570.2 L304.7 558.35 L311.2 546.5 L372.3 546.5 L378.8 558.35 L372.3 570.2 Z" fill="none" stroke="#444" stroke-width="1.25" stroke-linejoin="miter" />
<path d="M385.3 570.2 L378.8 558.35 L385.3 546.5 L866.4 546.5 L872.9 558.35 L866.4 570.2 Z" fill="#fff" stroke="none" stroke-width="1.25" stroke-linejoin="miter" />
<clipPath id="h36"><path d="M385.3 570.2 L378.8 558.35 L385.3 546.5 L866.4 546.5 L872.9 558.35 L866.4 570.2 Z"/></clipPath>
<path clip-path="url(#h36)" d="M357.86 570.2L370.53 546.5M364.22 570.2L376.89 546.5M370.58 570.2L383.25 546.5M376.94 570.2L389.61 546.5M383.3 570.2L395.97 546.5M389.66 570.2L402.33 546.5M396.02 570.2L408.69 546.5M402.38 570.2L415.05 546.5M408.74 570.2L421.41 546.5M415.1 570.2L427.77 546.5M421.46 570.2L434.13 546.5M427.82 570.2L440.49 546.5M434.18 570.2L446.85 546.5M440.54 570.2L453.21 546.5M446.9 570.2L459.57 546.5M453.26 570.2L465.93 546.5M459.62 570.2L472.29 546.5M465.98 570.2L478.65 546.5M472.34 570.2L485.01 546.5M478.7 570.2L491.37 546.5M485.06 570.2L497.73 546.5M491.42 570.2L504.09 546.5M497.78 570.2L510.45 546.5M504.14 570.2L516.81 546.5M510.5 570.2L523.17 546.5M516.86 570.2L529.53 546.5M523.22 570.2L535.89 546.5M529.58 570.2L542.25 546.5M535.94 570.2L548.61 546.5M542.3 570.2L554.97 546.5M548.66 570.2L561.33 546.5M555.02 570.2L567.69 546.5M561.38 570.2L574.05 546.5M567.74 570.2L580.41 546.5M574.1 570.2L586.77 546.5M580.46 570.2L593.13 546.5M586.82 570.2L599.49 546.5M593.18 570.2L605.85 546.5M599.54 570.2L612.21 546.5M605.9 570.2L618.57 546.5M612.26 570.2L624.93 546.5M618.62 570.2L631.29 546.5M624.98 570.2L637.65 546.5M631.34 570.2L644.01 546.5M637.7 570.2L650.37 546.5M644.06 570.2L656.73 546.5M650.42 570.2L663.09 546.5M656.78 570.2L669.45 546.5M663.14 570.2L675.81 546.5M669.5 570.2L682.17 546.5M675.86 570.2L688.53 546.5M682.22 570.2L694.89 546.5M688.58 570.2L701.25 546.5M694.94 570.2L707.61 546.5M701.3 570.2L713.97 546.5M707.66 570.2L720.33 546.5M714.02 570.2L726.69 546.5M720.38 570.2L733.05 546.5M726.74 570.2L739.41 546.5M733.1 570.2L745.77 546.5M739.46 570.2L752.13 546.5M745.82 570.2L758.49 546.5M752.18 570.2L764.85 546.5M758.54 570.2L771.21 546.5M764.9 570.2L777.57 546.5M771.26 570.2L783.93 546.5M777.62 570.2L790.29 546.5M783.98 570.2L796.65 546.5M790.34 570.2L803.01 546.5M796.7 570.2L809.37 546.5M803.06 570.2L815.73 546.5M809.42 570.2L822.09 546.5M815.78 570.2L828.45 546.5M822.14 570.2L834.81 546.5M828.5 570.2L841.17 546.5M834.86 570.2L847.53 546.5M841.22 570.2L853.89 546.5M847.58 570.2L860.25 546.5M853.94 570.2L866.61 546.5M860.3 570.2L872.97 546.5M866.66 570.2L879.33 546.5M873.02 570.2L885.69 546.5M879.38 570.2L892.05 546.5" stroke="#1c1c1c" stroke-width="0.78" fill="none"/>
<path d="M385.3 570.2 L378.8 558.35 L385.3 546.5 L866.4 546.5 L872.9 558.35 L866.4 570.2 Z" fill="none" stroke="#444" stroke-width="1.25" stroke-linejoin="miter" />
<path d="M879.4 570.2 L872.9 558.35 L879.4 546.5 L940.3 546.5 L946.8 558.35 L940.3 570.2 Z" fill="#fff" stroke="none" stroke-width="1.25" stroke-linejoin="miter" />
<path d="M879.4 570.2 L872.9 558.35 L879.4 546.5 L940.3 546.5 L946.8 558.35 L940.3 570.2 Z" fill="#b9d7d6" stroke="none" stroke-width="1.25" stroke-linejoin="miter" />
<path d="M879.4 570.2 L872.9 558.35 L879.4 546.5 L940.3 546.5 L946.8 558.35 L940.3 570.2 Z" fill="none" stroke="#444" stroke-width="1.25" stroke-linejoin="miter" />
<path d="M953.3 570.2 L946.8 558.35 L953.3 546.5 L995.5 546.5 L995.5 570.2 Z" fill="#fff" stroke="none" stroke-width="1.25" stroke-linejoin="miter" />
<clipPath id="h37"><path d="M953.3 570.2 L946.8 558.35 L953.3 546.5 L995.5 546.5 L995.5 570.2 Z"/></clipPath>
<path clip-path="url(#h37)" d="M923.9 570.2L936.57 546.5M930.26 570.2L942.93 546.5M936.62 570.2L949.29 546.5M942.98 570.2L955.65 546.5M949.34 570.2L962.01 546.5M955.7 570.2L968.37 546.5M962.06 570.2L974.73 546.5M968.42 570.2L981.09 546.5M974.78 570.2L987.45 546.5M981.14 570.2L993.81 546.5M987.5 570.2L1000.17 546.5M993.86 570.2L1006.53 546.5M1000.22 570.2L1012.89 546.5M1006.58 570.2L1019.25 546.5" stroke="#1c1c1c" stroke-width="0.78" fill="none"/>
<path d="M995.5 546.5 L953.3 546.5 L946.8 558.35 L953.3 570.2 L995.5 570.2" fill="none" stroke="#444" stroke-width="1.25" stroke-linejoin="miter" />
<line x1="118.8" y1="542" x2="142.3" y2="542" stroke="#111" stroke-width="1.1" />
<path d="M116.8 542 L124.3 539.9 L124.3 544.1 Z" fill="#111"/>
<path d="M144.3 542 L136.8 539.9 L136.8 544.1 Z" fill="#111"/>
<line x1="149.3" y1="542" x2="186.4" y2="542" stroke="#111" stroke-width="1.1" />
<path d="M147.3 542 L154.8 539.9 L154.8 544.1 Z" fill="#111"/>
<path d="M188.4 542 L180.9 539.9 L180.9 544.1 Z" fill="#111"/>
<line x1="115.4" y1="538.8" x2="115.4" y2="558.35" stroke="#111" stroke-width="1.1" />
<line x1="189.6" y1="539.6" x2="189.6" y2="559.85" stroke="#111" stroke-width="1.1" />
<text x="122.5" y="532.5" font-size="11.8" fill="#1a1a1a" textLength="17.9" lengthAdjust="spacingAndGlyphs">t<tspan font-size="11.3" dy="3.2">AS</tspan></text>
<text x="160.3" y="532.5" font-size="11.8" fill="#1a1a1a" textLength="20.8" lengthAdjust="spacingAndGlyphs">t<tspan font-size="11.3" dy="3.3">AH</tspan></text>
<text x="151.5" y="432.8" font-size="10.5" text-anchor="middle" font-weight="normal" fill="#1a1a1a" textLength="24" lengthAdjust="spacingAndGlyphs" >ROW</text>
<text x="908.9" y="432.8" font-size="10.5" text-anchor="middle" font-weight="normal" fill="#1a1a1a" textLength="24" lengthAdjust="spacingAndGlyphs" >ROW</text>
<text x="309" y="434.8" font-size="10.5" fill="#1a1a1a" textLength="54.4" lengthAdjust="spacingAndGlyphs">COLUMN <tspan font-style="italic" font-size="11.5">m</tspan></text>
<text x="365.3" y="430.7" font-size="10.7" text-anchor="start" font-weight="normal" fill="#1a1a1a" textLength="5.4" lengthAdjust="spacingAndGlyphs" >2</text>
<text x="151.5" y="503.1" font-size="10.5" text-anchor="middle" font-weight="normal" fill="#1a1a1a" textLength="24" lengthAdjust="spacingAndGlyphs" >ROW</text>
<text x="908.9" y="503.1" font-size="10.5" text-anchor="middle" font-weight="normal" fill="#1a1a1a" textLength="24" lengthAdjust="spacingAndGlyphs" >ROW</text>
<text x="153.7" y="560.6" font-size="10.5" text-anchor="middle" font-weight="normal" fill="#1a1a1a" textLength="26.8" lengthAdjust="spacingAndGlyphs" >BANK</text>
<text x="908.9" y="560.6" font-size="10.5" text-anchor="middle" font-weight="normal" fill="#1a1a1a" textLength="26.8" lengthAdjust="spacingAndGlyphs" >BANK</text>
<text x="341.4" y="560.6" font-size="10.5" text-anchor="middle" font-weight="normal" fill="#1a1a1a" textLength="26.8" lengthAdjust="spacingAndGlyphs" >BANK</text>
<rect x="276" y="467.6" width="135" height="17.4" fill="#fff"/>
<text x="279.6" y="480.7" font-size="10.5" text-anchor="start" font-weight="normal" fill="#1a1a1a" textLength="127.8" lengthAdjust="spacingAndGlyphs" >ENABLE AUTO PRECHARGE</text>
<line x1="106.5" y1="638.45" x2="454.3" y2="638.45" stroke="#111" stroke-width="1.3" />
<line x1="861.2" y1="638.45" x2="996" y2="638.45" stroke="#111" stroke-width="1.3" />
<path d="M460.5 650.4 L454.3 638.45 L460.5 626.5 L505.5 626.5 L511.7 638.45 L505.5 650.4 Z" fill="#fff" stroke="none" stroke-width="1.25" stroke-linejoin="miter" />
<clipPath id="h38"><path d="M460.5 650.4 L454.3 638.45 L460.5 626.5 L505.5 626.5 L511.7 638.45 L505.5 650.4 Z"/></clipPath>
<path clip-path="url(#h38)" d="M427.07 650.4L439.85 626.5M439.85 650.4L427.07 626.5M433.43 650.4L446.21 626.5M446.21 650.4L433.43 626.5M439.79 650.4L452.57 626.5M452.57 650.4L439.79 626.5M446.15 650.4L458.93 626.5M458.93 650.4L446.15 626.5M452.51 650.4L465.29 626.5M465.29 650.4L452.51 626.5M458.87 650.4L471.65 626.5M471.65 650.4L458.87 626.5M465.23 650.4L478.01 626.5M478.01 650.4L465.23 626.5M471.59 650.4L484.37 626.5M484.37 650.4L471.59 626.5M477.95 650.4L490.73 626.5M490.73 650.4L477.95 626.5M484.31 650.4L497.09 626.5M497.09 650.4L484.31 626.5M490.67 650.4L503.45 626.5M503.45 650.4L490.67 626.5M497.03 650.4L509.81 626.5M509.81 650.4L497.03 626.5M503.39 650.4L516.17 626.5M516.17 650.4L503.39 626.5M509.75 650.4L522.53 626.5M522.53 650.4L509.75 626.5M516.11 650.4L528.89 626.5M528.89 650.4L516.11 626.5M522.47 650.4L535.25 626.5M535.25 650.4L522.47 626.5M528.83 650.4L541.61 626.5M541.61 650.4L528.83 626.5" stroke="#000" stroke-width="1.0" fill="none"/>
<path d="M460.5 650.4 L454.3 638.45 L460.5 626.5 L505.5 626.5 L511.7 638.45 L505.5 650.4 Z" fill="none" stroke="#444" stroke-width="1.25" stroke-linejoin="miter" />
<path d="M569.2 650.4 L563 638.45 L569.2 626.5 L595 626.5 L601.2 638.45 L595 650.4 Z" fill="#fff" stroke="none" stroke-width="1.25" stroke-linejoin="miter" />
<clipPath id="h39"><path d="M569.2 650.4 L563 638.45 L569.2 626.5 L595 626.5 L601.2 638.45 L595 650.4 Z"/></clipPath>
<path clip-path="url(#h39)" d="M535.19 650.4L547.97 626.5M547.97 650.4L535.19 626.5M541.55 650.4L554.33 626.5M554.33 650.4L541.55 626.5M547.91 650.4L560.69 626.5M560.69 650.4L547.91 626.5M554.27 650.4L567.05 626.5M567.05 650.4L554.27 626.5M560.63 650.4L573.41 626.5M573.41 650.4L560.63 626.5M566.99 650.4L579.77 626.5M579.77 650.4L566.99 626.5M573.35 650.4L586.13 626.5M586.13 650.4L573.35 626.5M579.71 650.4L592.49 626.5M592.49 650.4L579.71 626.5M586.07 650.4L598.85 626.5M598.85 650.4L586.07 626.5M592.43 650.4L605.21 626.5M605.21 650.4L592.43 626.5M598.79 650.4L611.57 626.5M611.57 650.4L598.79 626.5M605.15 650.4L617.93 626.5M617.93 650.4L605.15 626.5M611.51 650.4L624.29 626.5M624.29 650.4L611.51 626.5M617.87 650.4L630.65 626.5M630.65 650.4L617.87 626.5" stroke="#000" stroke-width="1.0" fill="none"/>
<path d="M569.2 650.4 L563 638.45 L569.2 626.5 L595 626.5 L601.2 638.45 L595 650.4 Z" fill="none" stroke="#444" stroke-width="1.25" stroke-linejoin="miter" />
<path d="M664 650.4 L657.8 638.45 L664 626.5 L689.4 626.5 L695.6 638.45 L689.4 650.4 Z" fill="#fff" stroke="none" stroke-width="1.25" stroke-linejoin="miter" />
<clipPath id="h40"><path d="M664 650.4 L657.8 638.45 L664 626.5 L689.4 626.5 L695.6 638.45 L689.4 650.4 Z"/></clipPath>
<path clip-path="url(#h40)" d="M630.59 650.4L643.37 626.5M643.37 650.4L630.59 626.5M636.95 650.4L649.73 626.5M649.73 650.4L636.95 626.5M643.31 650.4L656.09 626.5M656.09 650.4L643.31 626.5M649.67 650.4L662.45 626.5M662.45 650.4L649.67 626.5M656.03 650.4L668.81 626.5M668.81 650.4L656.03 626.5M662.39 650.4L675.17 626.5M675.17 650.4L662.39 626.5M668.75 650.4L681.53 626.5M681.53 650.4L668.75 626.5M675.11 650.4L687.89 626.5M687.89 650.4L675.11 626.5M681.47 650.4L694.25 626.5M694.25 650.4L681.47 626.5M687.83 650.4L700.61 626.5M700.61 650.4L687.83 626.5M694.19 650.4L706.97 626.5M706.97 650.4L694.19 626.5M700.55 650.4L713.33 626.5M713.33 650.4L700.55 626.5M706.91 650.4L719.69 626.5M719.69 650.4L706.91 626.5M713.27 650.4L726.05 626.5M726.05 650.4L713.27 626.5" stroke="#000" stroke-width="1.0" fill="none"/>
<path d="M664 650.4 L657.8 638.45 L664 626.5 L689.4 626.5 L695.6 638.45 L689.4 650.4 Z" fill="none" stroke="#444" stroke-width="1.25" stroke-linejoin="miter" />
<path d="M758.1 650.4 L751.9 638.45 L758.1 626.5 L783.8 626.5 L790 638.45 L783.8 650.4 Z" fill="#fff" stroke="none" stroke-width="1.25" stroke-linejoin="miter" />
<clipPath id="h41"><path d="M758.1 650.4 L751.9 638.45 L758.1 626.5 L783.8 626.5 L790 638.45 L783.8 650.4 Z"/></clipPath>
<path clip-path="url(#h41)" d="M719.63 650.4L732.41 626.5M732.41 650.4L719.63 626.5M725.99 650.4L738.77 626.5M738.77 650.4L725.99 626.5M732.35 650.4L745.13 626.5M745.13 650.4L732.35 626.5M738.71 650.4L751.49 626.5M751.49 650.4L738.71 626.5M745.07 650.4L757.85 626.5M757.85 650.4L745.07 626.5M751.43 650.4L764.21 626.5M764.21 650.4L751.43 626.5M757.79 650.4L770.57 626.5M770.57 650.4L757.79 626.5M764.15 650.4L776.93 626.5M776.93 650.4L764.15 626.5M770.51 650.4L783.29 626.5M783.29 650.4L770.51 626.5M776.87 650.4L789.65 626.5M789.65 650.4L776.87 626.5M783.23 650.4L796.01 626.5M796.01 650.4L783.23 626.5M789.59 650.4L802.37 626.5M802.37 650.4L789.59 626.5M795.95 650.4L808.73 626.5M808.73 650.4L795.95 626.5M802.31 650.4L815.09 626.5M815.09 650.4L802.31 626.5M808.67 650.4L821.45 626.5M821.45 650.4L808.67 626.5" stroke="#000" stroke-width="1.0" fill="none"/>
<path d="M758.1 650.4 L751.9 638.45 L758.1 626.5 L783.8 626.5 L790 638.45 L783.8 650.4 Z" fill="none" stroke="#444" stroke-width="1.25" stroke-linejoin="miter" />
<path d="M847 638.45 L854.1 627.1 L861.2 638.45 L854.1 649.8 Z" fill="#fff" stroke="none" stroke-width="1.25" stroke-linejoin="miter" />
<clipPath id="h42"><path d="M847 638.45 L854.1 627.1 L861.2 638.45 L854.1 649.8 Z"/></clipPath>
<path clip-path="url(#h42)" d="M815.35 649.8L827.49 627.1M827.49 649.8L815.35 627.1M821.71 649.8L833.85 627.1M833.85 649.8L821.71 627.1M828.07 649.8L840.21 627.1M840.21 649.8L828.07 627.1M834.43 649.8L846.57 627.1M846.57 649.8L834.43 627.1M840.79 649.8L852.93 627.1M852.93 649.8L840.79 627.1M847.15 649.8L859.29 627.1M859.29 649.8L847.15 627.1M853.51 649.8L865.65 627.1M865.65 649.8L853.51 627.1M859.87 649.8L872.01 627.1M872.01 649.8L859.87 627.1M866.23 649.8L878.37 627.1M878.37 649.8L866.23 627.1M872.59 649.8L884.73 627.1M884.73 649.8L872.59 627.1M878.95 649.8L891.09 627.1M891.09 649.8L878.95 627.1" stroke="#000" stroke-width="1.0" fill="none"/>
<path d="M847 638.45 L854.1 627.1 L861.2 638.45 L854.1 649.8 Z" fill="none" stroke="#222" stroke-width="1.25" stroke-linejoin="miter" />
<path d="M518.1 650.4 L511.7 638.45 L518.1 626.5 L556.6 626.5 L563 638.45 L556.6 650.4 Z" fill="#bac2e2" stroke="#2a2a33" stroke-width="1.3" stroke-linejoin="miter" />
<text x="520.3" y="642.95" font-size="10.5" fill="#1c2142" textLength="35" lengthAdjust="spacingAndGlyphs">D<tspan font-size="8">OUT</tspan> <tspan font-style="italic" font-size="11.5">m</tspan></text>
<path d="M607.6 650.4 L601.2 638.45 L607.6 626.5 L651.4 626.5 L657.8 638.45 L651.4 650.4 Z" fill="#bac2e2" stroke="#2a2a33" stroke-width="1.3" stroke-linejoin="miter" />
<text x="605.7" y="642.55" font-size="10.5" fill="#1c2142" textLength="47" lengthAdjust="spacingAndGlyphs">D<tspan font-size="8">OUT</tspan> <tspan font-style="italic" font-size="11.5">m</tspan> <tspan font-size="9.5">+</tspan> 1</text>
<path d="M702 650.4 L695.6 638.45 L702 626.5 L745.5 626.5 L751.9 638.45 L745.5 650.4 Z" fill="#bac2e2" stroke="#2a2a33" stroke-width="1.3" stroke-linejoin="miter" />
<text x="700.1" y="642.55" font-size="10.5" fill="#1c2142" textLength="47" lengthAdjust="spacingAndGlyphs">D<tspan font-size="8">OUT</tspan> <tspan font-style="italic" font-size="11.5">m</tspan> <tspan font-size="9.5">+</tspan> 2</text>
<path d="M796.4 650.4 L790 638.45 L796.4 626.5 L840.6 626.5 L847 638.45 L840.6 650.4 Z" fill="#bac2e2" stroke="#2a2a33" stroke-width="1.3" stroke-linejoin="miter" />
<text x="794.5" y="642.55" font-size="10.5" fill="#1c2142" textLength="47" lengthAdjust="spacingAndGlyphs">D<tspan font-size="8">OUT</tspan> <tspan font-style="italic" font-size="11.5">m</tspan> <tspan font-size="9.5">+</tspan> 3</text>
<line x1="433.3" y1="618.5" x2="507.2" y2="618.5" stroke="#111" stroke-width="1.1" />
<path d="M431.3 618.5 L438.8 616.4 L438.8 620.6 Z" fill="#111"/>
<path d="M509.2 618.5 L501.7 616.4 L501.7 620.6 Z" fill="#111"/>
<line x1="511.7" y1="614" x2="511.7" y2="638.45" stroke="#111" stroke-width="1.1" />
<text x="452.7" y="609.5" font-size="11.8" fill="#1a1a1a" textLength="20.2" lengthAdjust="spacingAndGlyphs">t<tspan font-size="11.3" dy="3.0">AC</tspan></text>
<line x1="429.5" y1="641.1" x2="429.5" y2="663.8" stroke="#111" stroke-width="1.1" />
<line x1="454.4" y1="634.3" x2="454.4" y2="661.6" stroke="#111" stroke-width="1.1" />
<line x1="432.9" y1="659.3" x2="451.4" y2="659.3" stroke="#111" stroke-width="1.1" />
<path d="M430.9 659.3 L438.4 657.2 L438.4 661.4 Z" fill="#111"/>
<path d="M453.4 659.3 L445.9 657.2 L445.9 661.4 Z" fill="#111"/>
<text x="432.8" y="652.9" font-size="11.8" fill="#1a1a1a" textLength="17.8" lengthAdjust="spacingAndGlyphs">t<tspan font-size="11.3" dy="2.6">LZ</tspan></text>
<line x1="527.3" y1="597.3" x2="597.4" y2="597.3" stroke="#111" stroke-width="1.1" />
<path d="M525.3 597.3 L532.8 595.2 L532.8 599.4 Z" fill="#111"/>
<path d="M599.4 597.3 L591.9 595.2 L591.9 599.4 Z" fill="#111"/>
<line x1="601.2" y1="593" x2="601.2" y2="638.45" stroke="#111" stroke-width="1.1" />
<line x1="526.7" y1="617" x2="559.4" y2="617" stroke="#111" stroke-width="1.1" />
<path d="M524.7 617 L532.2 614.9 L532.2 619.1 Z" fill="#111"/>
<path d="M561.4 617 L553.9 614.9 L553.9 619.1 Z" fill="#111"/>
<line x1="563" y1="614.4" x2="563" y2="638.45" stroke="#111" stroke-width="1.1" />
<text x="544.4" y="590.8" font-size="11.8" fill="#1a1a1a" textLength="20.2" lengthAdjust="spacingAndGlyphs">t<tspan font-size="11.3" dy="3.1">AC</tspan></text>
<text x="536.3" y="609.4" font-size="11.8" fill="#1a1a1a" textLength="22.2" lengthAdjust="spacingAndGlyphs">t<tspan font-size="11.3" dy="3.0">OH</tspan></text>
<line x1="622.3" y1="597.3" x2="691.8" y2="597.3" stroke="#111" stroke-width="1.1" />
<path d="M620.3 597.3 L627.8 595.2 L627.8 599.4 Z" fill="#111"/>
<path d="M693.8 597.3 L686.3 595.2 L686.3 599.4 Z" fill="#111"/>
<line x1="695.6" y1="593" x2="695.6" y2="638.45" stroke="#111" stroke-width="1.1" />
<line x1="621.7" y1="617" x2="654.2" y2="617" stroke="#111" stroke-width="1.1" />
<path d="M619.7 617 L627.2 614.9 L627.2 619.1 Z" fill="#111"/>
<path d="M656.2 617 L648.7 614.9 L648.7 619.1 Z" fill="#111"/>
<line x1="657.8" y1="614.4" x2="657.8" y2="638.45" stroke="#111" stroke-width="1.1" />
<text x="638.5" y="590.8" font-size="11.8" fill="#1a1a1a" textLength="20.2" lengthAdjust="spacingAndGlyphs">t<tspan font-size="11.3" dy="3.1">AC</tspan></text>
<text x="630.4" y="609.4" font-size="11.8" fill="#1a1a1a" textLength="22.2" lengthAdjust="spacingAndGlyphs">t<tspan font-size="11.3" dy="3.0">OH</tspan></text>
<line x1="716.3" y1="597.3" x2="786.2" y2="597.3" stroke="#111" stroke-width="1.1" />
<path d="M714.3 597.3 L721.8 595.2 L721.8 599.4 Z" fill="#111"/>
<path d="M788.2 597.3 L780.7 595.2 L780.7 599.4 Z" fill="#111"/>
<line x1="790" y1="593" x2="790" y2="638.45" stroke="#111" stroke-width="1.1" />
<line x1="715.7" y1="617" x2="748.3" y2="617" stroke="#111" stroke-width="1.1" />
<path d="M713.7 617 L721.2 614.9 L721.2 619.1 Z" fill="#111"/>
<path d="M750.3 617 L742.8 614.9 L742.8 619.1 Z" fill="#111"/>
<line x1="751.9" y1="614.4" x2="751.9" y2="638.45" stroke="#111" stroke-width="1.1" />
<text x="733.3" y="590.8" font-size="11.8" fill="#1a1a1a" textLength="20.2" lengthAdjust="spacingAndGlyphs">t<tspan font-size="11.3" dy="3.1">AC</tspan></text>
<text x="725.2" y="609.4" font-size="11.8" fill="#1a1a1a" textLength="22.2" lengthAdjust="spacingAndGlyphs">t<tspan font-size="11.3" dy="3.0">OH</tspan></text>
<line x1="809.7" y1="617" x2="843.4" y2="617" stroke="#111" stroke-width="1.1" />
<path d="M807.7 617 L815.2 614.9 L815.2 619.1 Z" fill="#111"/>
<path d="M845.4 617 L837.9 614.9 L837.9 619.1 Z" fill="#111"/>
<line x1="847" y1="614.8" x2="847" y2="638.45" stroke="#111" stroke-width="1.1" />
<text x="820" y="609.4" font-size="11.8" fill="#1a1a1a" textLength="22.2" lengthAdjust="spacingAndGlyphs">t<tspan font-size="11.3" dy="3.0">OH</tspan></text>
<line x1="810.7" y1="668.8" x2="858" y2="668.8" stroke="#111" stroke-width="1.1" />
<path d="M808.7 668.8 L816.2 666.7 L816.2 670.9 Z" fill="#111"/>
<path d="M860 668.8 L852.5 666.7 L852.5 670.9 Z" fill="#111"/>
<line x1="861.2" y1="634.8" x2="861.2" y2="670.8" stroke="#111" stroke-width="1.1" />
<text x="826.3" y="662.1" font-size="11.8" fill="#1a1a1a" textLength="19.6" lengthAdjust="spacingAndGlyphs">t<tspan font-size="11.3" dy="3.4">HZ</tspan></text>
<line x1="148.1" y1="691.4" x2="331.7" y2="691.4" stroke="#111" stroke-width="1.1" />
<path d="M146.1 691.4 L153.6 689.3 L153.6 693.5 Z" fill="#111"/>
<path d="M333.7 691.4 L326.2 689.3 L326.2 693.5 Z" fill="#111"/>
<line x1="337.3" y1="691.4" x2="520.7" y2="691.4" stroke="#111" stroke-width="1.1" />
<path d="M335.3 691.4 L342.8 689.3 L342.8 693.5 Z" fill="#111"/>
<path d="M522.7 691.4 L515.2 689.3 L515.2 693.5 Z" fill="#111"/>
<line x1="715.3" y1="691.4" x2="898.7" y2="691.4" stroke="#111" stroke-width="1.1" />
<path d="M713.3 691.4 L720.8 689.3 L720.8 693.5 Z" fill="#111"/>
<path d="M900.7 691.4 L893.2 689.3 L893.2 693.5 Z" fill="#111"/>
<line x1="148.1" y1="714.4" x2="709.7" y2="714.4" stroke="#111" stroke-width="1.1" />
<path d="M146.1 714.4 L153.6 712.3 L153.6 716.5 Z" fill="#111"/>
<path d="M711.7 714.4 L704.2 712.3 L704.2 716.5 Z" fill="#111"/>
<line x1="148.1" y1="738" x2="898.7" y2="738" stroke="#111" stroke-width="1.1" />
<path d="M146.1 738 L153.6 735.9 L153.6 740.1 Z" fill="#111"/>
<path d="M900.7 738 L893.2 735.9 L893.2 740.1 Z" fill="#111"/>
<text x="184.1" y="682.5" font-size="11.8" fill="#1a1a1a" textLength="28.3" lengthAdjust="spacingAndGlyphs">t<tspan font-size="11.3" dy="3.2">RCD</tspan></text>
<text x="184.1" y="707.3" font-size="11.8" fill="#1a1a1a" textLength="27.2" lengthAdjust="spacingAndGlyphs">t<tspan font-size="11.3" dy="3.4">RAS</tspan></text>
<text x="184.1" y="728.1" font-size="11.8" fill="#1a1a1a" textLength="19.3" lengthAdjust="spacingAndGlyphs">t<tspan font-size="11.3" dy="3.5">RC</tspan></text>
<text x="733.3" y="683.8" font-size="11.8" fill="#1a1a1a" textLength="18.5" lengthAdjust="spacingAndGlyphs">t<tspan font-size="11.3" dy="2.8">RP</tspan></text>
<text x="363.9" y="685.7" font-size="12" text-anchor="start" font-weight="normal" fill="#1a1a1a" textLength="71.1" lengthAdjust="spacingAndGlyphs" >CAS Latency</text>
<text x="75.9" y="208.9" font-size="12" text-anchor="start" font-weight="normal" fill="#1a1a1a" textLength="20.2" lengthAdjust="spacingAndGlyphs" >CLK</text>
<text x="75.4" y="263.8" font-size="12" text-anchor="start" font-weight="normal" fill="#1a1a1a" textLength="20.7" lengthAdjust="spacingAndGlyphs" >CKE</text>
<text x="34.9" y="320.9" font-size="12" text-anchor="start" font-weight="normal" fill="#1a1a1a" textLength="62.5" lengthAdjust="spacingAndGlyphs" >COMMAND</text>
<text x="65.3" y="367.9" font-size="12" text-anchor="start" font-weight="normal" fill="#1a1a1a" textLength="31.1" lengthAdjust="spacingAndGlyphs" >DQM/</text>
<text x="19.6" y="381.9" font-size="12" text-anchor="start" font-weight="normal" fill="#1a1a1a" textLength="76.2" lengthAdjust="spacingAndGlyphs" >DQML, DQMU</text>
<text x="7.8" y="432.8" font-size="12" text-anchor="start" font-weight="normal" fill="#1a1a1a" textLength="88.6" lengthAdjust="spacingAndGlyphs" >A0-A9, A11, A12</text>
<text x="76.2" y="505.7" font-size="12" text-anchor="start" font-weight="normal" fill="#1a1a1a" textLength="20.2" lengthAdjust="spacingAndGlyphs" >A10</text>
<text x="46.7" y="560.7" font-size="12" text-anchor="start" font-weight="normal" fill="#1a1a1a" textLength="49.1" lengthAdjust="spacingAndGlyphs" >BA0, BA1</text>
<text x="80.2" y="643.9" font-size="12" text-anchor="start" font-weight="normal" fill="#1a1a1a" textLength="16.2" lengthAdjust="spacingAndGlyphs" >DQ</text>
<rect x="869.8" y="774.4" width="20.8" height="19.8" fill="#fff"/>
<clipPath id="h43"><path d="M869.8 774.4 L890.6 774.4 L890.6 794.4 L869.8 794.4 Z"/></clipPath>
<path clip-path="url(#h43)" d="M847.58 794.4L858.27 774.4M853.94 794.4L864.63 774.4M860.3 794.4L870.99 774.4M866.66 794.4L877.35 774.4M873.02 794.4L883.71 774.4M879.38 794.4L890.07 774.4M885.74 794.4L896.43 774.4M892.1 794.4L902.79 774.4M898.46 794.4L909.15 774.4" stroke="#1c1c1c" stroke-width="0.78" fill="none"/>
<rect x="869.8" y="774.4" width="20.8" height="20" fill="none" stroke="#111" stroke-width="1.3"/>
<clipPath id="h44"><path d="M870.2 804.6 L890.6 804.6 L890.6 825.4 L870.2 825.4 Z"/></clipPath>
<path clip-path="url(#h44)" d="M842.8 825.4L853.92 804.6M853.92 825.4L842.8 804.6M849.16 825.4L860.28 804.6M860.28 825.4L849.16 804.6M855.52 825.4L866.64 804.6M866.64 825.4L855.52 804.6M861.88 825.4L873 804.6M873 825.4L861.88 804.6M868.24 825.4L879.36 804.6M879.36 825.4L868.24 804.6M874.6 825.4L885.72 804.6M885.72 825.4L874.6 804.6M880.96 825.4L892.08 804.6M892.08 825.4L880.96 804.6M887.32 825.4L898.44 804.6M898.44 825.4L887.32 804.6M893.68 825.4L904.8 804.6M904.8 825.4L893.68 804.6M900.04 825.4L911.16 804.6M911.16 825.4L900.04 804.6M906.4 825.4L917.52 804.6M917.52 825.4L906.4 804.6" stroke="#000" stroke-width="1.0" fill="none"/>
<rect x="870.2" y="804.6" width="20.4" height="20.8" fill="none" stroke="#111" stroke-width="1.3"/>
<text x="897.8" y="788.9" font-size="16" text-anchor="start" font-weight="normal" fill="#1a1a1a" textLength="90.6" lengthAdjust="spacingAndGlyphs" >DON’T CARE</text>
<text x="897.8" y="820.7" font-size="16" text-anchor="start" font-weight="normal" fill="#1a1a1a" textLength="85.4" lengthAdjust="spacingAndGlyphs" >UNDEFINED</text>
</g>
</svg>
</body></html>
